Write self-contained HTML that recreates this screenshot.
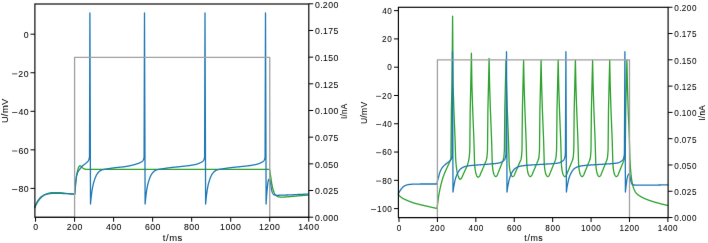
<!DOCTYPE html><html><head><meta charset="utf-8"><style>html,body{margin:0;padding:0;background:#fff;overflow:hidden}svg{display:block}text{font-family:"Liberation Sans",sans-serif;fill:#000;stroke:#000;stroke-width:0.05px}</style></head><body>
<svg width="708" height="243" viewBox="0 0 708 243">
<defs><filter id="bl" x="0" y="0" width="100%" height="100%" color-interpolation-filters="sRGB"><feConvolveMatrix order="3" kernelMatrix="0.00276 0.04704 0.00276 0.04704 0.80077 0.04704 0.00276 0.04704 0.00276" edgeMode="duplicate"/></filter></defs>
<g filter="url(#bl)"><rect width="708" height="243" fill="#fff"/>
<path d="M34.70,208.20 L34.95,207.46 L35.20,206.75 L35.45,206.11 L35.50,206.00 L35.70,205.55 L35.95,205.03 L36.20,204.53 L36.45,204.06 L36.71,203.61 L36.96,203.18 L37.21,202.77 L37.46,202.37 L37.70,202.00 L37.71,201.99 L37.96,201.61 L38.21,201.24 L38.46,200.87 L38.71,200.51 L38.96,200.16 L39.21,199.81 L39.46,199.48 L39.71,199.15 L39.96,198.84 L40.21,198.54 L40.46,198.25 L40.72,197.97 L40.97,197.71 L41.22,197.47 L41.40,197.30 L41.47,197.24 L41.72,197.02 L41.97,196.80 L42.22,196.59 L42.47,196.38 L42.72,196.17 L42.97,195.97 L43.22,195.78 L43.47,195.59 L43.72,195.40 L43.97,195.23 L44.22,195.06 L44.47,194.90 L44.73,194.75 L44.98,194.60 L45.23,194.47 L45.48,194.34 L45.73,194.23 L45.98,194.12 L46.23,194.03 L46.30,194.00 L46.48,193.94 L46.73,193.85 L46.98,193.77 L47.23,193.68 L47.48,193.60 L47.73,193.52 L47.98,193.44 L48.23,193.36 L48.48,193.29 L48.73,193.21 L48.99,193.14 L49.24,193.07 L49.49,193.01 L49.74,192.95 L49.99,192.89 L50.24,192.84 L50.49,192.79 L50.74,192.75 L50.99,192.71 L51.24,192.68 L51.49,192.65 L51.74,192.63 L51.99,192.61 L52.24,192.60 L52.49,192.60 L52.50,192.60 L52.75,192.60 L53.00,192.60 L53.25,192.60 L53.50,192.60 L53.75,192.60 L54.00,192.60 L54.25,192.61 L54.50,192.61 L54.75,192.61 L55.00,192.61 L55.25,192.61 L55.50,192.62 L55.75,192.62 L56.00,192.62 L56.25,192.63 L56.50,192.63 L56.76,192.63 L57.01,192.64 L57.26,192.64 L57.51,192.65 L57.76,192.65 L58.01,192.66 L58.26,192.66 L58.51,192.67 L58.76,192.67 L59.01,192.68 L59.26,192.68 L59.51,192.69 L59.76,192.69 L60.00,192.70 L60.01,192.70 L60.26,192.71 L60.51,192.72 L60.77,192.74 L61.02,192.75 L61.27,192.78 L61.52,192.80 L61.77,192.83 L62.02,192.86 L62.27,192.89 L62.52,192.92 L62.77,192.95 L63.02,192.99 L63.27,193.02 L63.52,193.06 L63.77,193.10 L64.02,193.13 L64.27,193.17 L64.52,193.21 L64.78,193.24 L65.03,193.28 L65.28,193.31 L65.53,193.34 L65.78,193.37 L66.00,193.40 L66.03,193.40 L66.28,193.43 L66.53,193.46 L66.78,193.49 L67.03,193.52 L67.28,193.54 L67.53,193.57 L67.78,193.60 L68.03,193.63 L68.28,193.66 L68.53,193.69 L68.78,193.72 L69.04,193.74 L69.29,193.77 L69.54,193.80 L69.79,193.83 L70.04,193.86 L70.29,193.88 L70.54,193.91 L70.79,193.94 L71.04,193.96 L71.29,193.99 L71.54,194.01 L71.79,194.04 L72.04,194.07 L72.29,194.09 L72.54,194.11 L72.80,194.14 L73.05,194.16 L73.30,194.18 L73.50,194.20 L73.55,194.20 L73.80,194.22 L74.05,194.24 L74.30,194.26 L74.55,194.28 L74.80,194.30 L75.05,191.20 L75.30,188.24 L75.50,186.00 L75.55,185.45 L75.80,182.68 L76.05,180.03 L76.30,177.75 L76.40,177.00 L76.55,176.01 L76.80,174.56 L77.05,173.29 L77.30,172.14 L77.40,171.70 L77.55,171.02 L77.80,169.89 L78.05,168.84 L78.30,167.98 L78.50,167.50 L78.55,167.40 L78.80,166.95 L79.05,166.54 L79.30,166.19 L79.55,165.94 L79.80,165.81 L79.90,165.80 L80.05,165.81 L80.30,165.86 L80.55,165.96 L80.80,166.08 L81.05,166.21 L81.20,166.30 L81.30,166.37 L81.55,166.62 L81.80,166.94 L82.05,167.29 L82.30,167.60 L82.50,167.80 L82.55,167.84 L82.80,168.04 L83.05,168.22 L83.30,168.39 L83.55,168.54 L83.80,168.66 L83.90,168.70 L84.05,168.76 L84.30,168.86 L84.55,168.96 L84.80,169.05 L85.05,169.13 L85.30,169.20 L85.55,169.26 L85.80,169.29 L86.00,169.30 L86.05,169.30 L86.30,169.31 L86.55,169.31 L86.80,169.31 L87.05,169.32 L87.30,169.32 L87.55,169.33 L87.80,169.33 L88.05,169.33 L88.30,169.34 L88.55,169.34 L88.80,169.34 L89.05,169.35 L89.30,169.35 L89.55,169.35 L89.80,169.35 L90.05,169.36 L90.30,169.36 L90.55,169.36 L90.80,169.36 L91.05,169.37 L91.30,169.37 L91.55,169.37 L91.80,169.37 L92.05,169.38 L92.30,169.38 L92.55,169.38 L92.80,169.38 L93.05,169.38 L93.30,169.38 L93.55,169.39 L93.80,169.39 L94.05,169.39 L94.31,169.39 L94.56,169.39 L94.81,169.39 L95.06,169.39 L95.31,169.39 L95.56,169.39 L95.81,169.39 L96.06,169.40 L96.31,169.40 L96.56,169.40 L96.81,169.40 L97.06,169.40 L97.31,169.40 L97.56,169.40 L97.81,169.40 L98.06,169.40 L98.31,169.40 L98.56,169.40 L98.81,169.40 L99.06,169.40 L99.31,169.40 L99.56,169.40 L99.81,169.40 L100.00,169.40 L100.06,169.40 L100.31,169.40 L100.56,169.40 L100.81,169.40 L101.06,169.40 L101.31,169.40 L101.56,169.40 L101.81,169.40 L102.06,169.40 L102.31,169.40 L102.56,169.40 L102.81,169.40 L103.06,169.40 L103.31,169.40 L103.56,169.40 L103.81,169.40 L104.06,169.40 L104.31,169.40 L104.56,169.40 L104.81,169.40 L105.06,169.40 L105.31,169.40 L105.56,169.40 L105.81,169.40 L106.06,169.40 L106.31,169.40 L106.56,169.40 L106.81,169.40 L107.06,169.40 L107.31,169.40 L107.56,169.40 L107.81,169.40 L108.06,169.40 L108.31,169.40 L108.56,169.40 L108.81,169.40 L109.06,169.40 L109.31,169.40 L109.56,169.40 L109.81,169.40 L110.06,169.40 L110.31,169.40 L110.56,169.40 L110.81,169.40 L111.06,169.40 L111.31,169.40 L111.56,169.40 L111.81,169.40 L112.06,169.40 L112.31,169.40 L112.56,169.40 L112.81,169.40 L113.06,169.40 L113.31,169.40 L113.56,169.40 L113.81,169.40 L114.06,169.40 L114.31,169.40 L114.56,169.40 L114.81,169.40 L115.06,169.40 L115.31,169.40 L115.56,169.40 L115.81,169.40 L116.06,169.40 L116.31,169.40 L116.56,169.40 L116.81,169.40 L117.06,169.40 L117.31,169.40 L117.56,169.40 L117.81,169.40 L118.06,169.40 L118.31,169.40 L118.56,169.40 L118.81,169.40 L119.06,169.40 L119.31,169.40 L119.56,169.40 L119.81,169.40 L120.06,169.40 L120.31,169.40 L120.56,169.40 L120.81,169.40 L121.06,169.40 L121.31,169.40 L121.56,169.40 L121.81,169.40 L122.06,169.40 L122.31,169.40 L122.56,169.40 L122.81,169.40 L123.06,169.40 L123.31,169.40 L123.56,169.40 L123.81,169.40 L124.06,169.40 L124.31,169.40 L124.56,169.40 L124.81,169.40 L125.06,169.40 L125.31,169.40 L125.56,169.40 L125.81,169.40 L126.06,169.40 L126.31,169.40 L126.56,169.40 L126.81,169.40 L127.06,169.40 L127.31,169.40 L127.56,169.40 L127.81,169.40 L128.06,169.40 L128.31,169.40 L128.56,169.40 L128.81,169.40 L129.06,169.40 L129.31,169.40 L129.56,169.40 L129.81,169.40 L130.06,169.40 L130.31,169.40 L130.56,169.40 L130.81,169.40 L131.06,169.40 L131.31,169.40 L131.56,169.40 L131.81,169.40 L132.06,169.40 L132.31,169.40 L132.56,169.40 L132.81,169.40 L133.06,169.40 L133.32,169.40 L133.57,169.40 L133.82,169.40 L134.07,169.40 L134.32,169.40 L134.57,169.40 L134.82,169.40 L135.07,169.40 L135.32,169.40 L135.57,169.40 L135.82,169.40 L136.07,169.40 L136.32,169.40 L136.57,169.40 L136.82,169.40 L137.07,169.40 L137.32,169.40 L137.57,169.40 L137.82,169.40 L138.07,169.40 L138.32,169.40 L138.57,169.40 L138.82,169.40 L139.07,169.40 L139.32,169.40 L139.57,169.40 L139.82,169.40 L140.07,169.40 L140.32,169.40 L140.57,169.40 L140.82,169.40 L141.07,169.40 L141.32,169.40 L141.57,169.40 L141.82,169.40 L142.07,169.40 L142.32,169.40 L142.57,169.40 L142.82,169.40 L143.07,169.40 L143.32,169.40 L143.57,169.40 L143.82,169.40 L144.07,169.40 L144.32,169.40 L144.57,169.40 L144.82,169.40 L145.07,169.40 L145.32,169.40 L145.57,169.40 L145.82,169.40 L146.07,169.40 L146.32,169.40 L146.57,169.40 L146.82,169.40 L147.07,169.40 L147.32,169.40 L147.57,169.40 L147.82,169.40 L148.07,169.40 L148.32,169.40 L148.57,169.40 L148.82,169.40 L149.07,169.40 L149.32,169.40 L149.57,169.40 L149.82,169.40 L150.07,169.40 L150.32,169.40 L150.57,169.40 L150.82,169.40 L151.07,169.40 L151.32,169.40 L151.57,169.40 L151.82,169.40 L152.07,169.40 L152.32,169.40 L152.57,169.40 L152.82,169.40 L153.07,169.40 L153.32,169.40 L153.57,169.40 L153.82,169.40 L154.07,169.40 L154.32,169.40 L154.57,169.40 L154.82,169.40 L155.07,169.40 L155.32,169.40 L155.57,169.40 L155.82,169.40 L156.07,169.40 L156.32,169.40 L156.57,169.40 L156.82,169.40 L157.07,169.40 L157.32,169.40 L157.57,169.40 L157.82,169.40 L158.07,169.40 L158.32,169.40 L158.57,169.40 L158.82,169.40 L159.07,169.40 L159.32,169.40 L159.57,169.40 L159.82,169.40 L160.07,169.40 L160.32,169.40 L160.57,169.40 L160.82,169.40 L161.07,169.40 L161.32,169.40 L161.57,169.40 L161.82,169.40 L162.07,169.40 L162.32,169.40 L162.57,169.40 L162.82,169.40 L163.07,169.40 L163.32,169.40 L163.57,169.40 L163.82,169.40 L164.07,169.40 L164.32,169.40 L164.57,169.40 L164.82,169.40 L165.07,169.40 L165.32,169.40 L165.57,169.40 L165.82,169.40 L166.07,169.40 L166.32,169.40 L166.57,169.40 L166.82,169.40 L167.07,169.40 L167.32,169.40 L167.57,169.40 L167.82,169.40 L168.07,169.40 L168.32,169.40 L168.57,169.40 L168.82,169.40 L169.07,169.40 L169.32,169.40 L169.57,169.40 L169.82,169.40 L170.07,169.40 L170.32,169.40 L170.57,169.40 L170.82,169.40 L171.07,169.40 L171.32,169.40 L171.57,169.40 L171.82,169.40 L172.07,169.40 L172.33,169.40 L172.58,169.40 L172.83,169.40 L173.08,169.40 L173.33,169.40 L173.58,169.40 L173.83,169.40 L174.08,169.40 L174.33,169.40 L174.58,169.40 L174.83,169.40 L175.08,169.40 L175.33,169.40 L175.58,169.40 L175.83,169.40 L176.08,169.40 L176.33,169.40 L176.58,169.40 L176.83,169.40 L177.08,169.40 L177.33,169.40 L177.58,169.40 L177.83,169.40 L178.08,169.40 L178.33,169.40 L178.58,169.40 L178.83,169.40 L179.08,169.40 L179.33,169.40 L179.58,169.40 L179.83,169.40 L180.08,169.40 L180.33,169.40 L180.58,169.40 L180.83,169.40 L181.08,169.40 L181.33,169.40 L181.58,169.40 L181.83,169.40 L182.08,169.40 L182.33,169.40 L182.58,169.40 L182.83,169.40 L183.08,169.40 L183.33,169.40 L183.58,169.40 L183.83,169.40 L184.08,169.40 L184.33,169.40 L184.58,169.40 L184.83,169.40 L185.08,169.40 L185.33,169.40 L185.58,169.40 L185.83,169.40 L186.08,169.40 L186.33,169.40 L186.58,169.40 L186.83,169.40 L187.08,169.40 L187.33,169.40 L187.58,169.40 L187.83,169.40 L188.08,169.40 L188.33,169.40 L188.58,169.40 L188.83,169.40 L189.08,169.40 L189.33,169.40 L189.58,169.40 L189.83,169.40 L190.08,169.40 L190.33,169.40 L190.58,169.40 L190.83,169.40 L191.08,169.40 L191.33,169.40 L191.58,169.40 L191.83,169.40 L192.08,169.40 L192.33,169.40 L192.58,169.40 L192.83,169.40 L193.08,169.40 L193.33,169.40 L193.58,169.40 L193.83,169.40 L194.08,169.40 L194.33,169.40 L194.58,169.40 L194.83,169.40 L195.08,169.40 L195.33,169.40 L195.58,169.40 L195.83,169.40 L196.08,169.40 L196.33,169.40 L196.58,169.40 L196.83,169.40 L197.08,169.40 L197.33,169.40 L197.58,169.40 L197.83,169.40 L198.08,169.40 L198.33,169.40 L198.58,169.40 L198.83,169.40 L199.08,169.40 L199.33,169.40 L199.58,169.40 L199.83,169.40 L200.08,169.40 L200.33,169.40 L200.58,169.40 L200.83,169.40 L201.08,169.40 L201.33,169.40 L201.58,169.40 L201.83,169.40 L202.08,169.40 L202.33,169.40 L202.58,169.40 L202.83,169.40 L203.08,169.40 L203.33,169.40 L203.58,169.40 L203.83,169.40 L204.08,169.40 L204.33,169.40 L204.58,169.40 L204.83,169.40 L205.08,169.40 L205.33,169.40 L205.58,169.40 L205.83,169.40 L206.08,169.40 L206.33,169.40 L206.58,169.40 L206.83,169.40 L207.08,169.40 L207.33,169.40 L207.58,169.40 L207.83,169.40 L208.08,169.40 L208.33,169.40 L208.58,169.40 L208.83,169.40 L209.08,169.40 L209.33,169.40 L209.58,169.40 L209.83,169.40 L210.08,169.40 L210.33,169.40 L210.58,169.40 L210.83,169.40 L211.08,169.40 L211.34,169.40 L211.59,169.40 L211.84,169.40 L212.09,169.40 L212.34,169.40 L212.59,169.40 L212.84,169.40 L213.09,169.40 L213.34,169.40 L213.59,169.40 L213.84,169.40 L214.09,169.40 L214.34,169.40 L214.59,169.40 L214.84,169.40 L215.09,169.40 L215.34,169.40 L215.59,169.40 L215.84,169.40 L216.09,169.40 L216.34,169.40 L216.59,169.40 L216.84,169.40 L217.09,169.40 L217.34,169.40 L217.59,169.40 L217.84,169.40 L218.09,169.40 L218.34,169.40 L218.59,169.40 L218.84,169.40 L219.09,169.40 L219.34,169.40 L219.59,169.40 L219.84,169.40 L220.09,169.40 L220.34,169.40 L220.59,169.40 L220.84,169.40 L221.09,169.40 L221.34,169.40 L221.59,169.40 L221.84,169.40 L222.09,169.40 L222.34,169.40 L222.59,169.40 L222.84,169.40 L223.09,169.40 L223.34,169.40 L223.59,169.40 L223.84,169.40 L224.09,169.40 L224.34,169.40 L224.59,169.40 L224.84,169.40 L225.09,169.40 L225.34,169.40 L225.59,169.40 L225.84,169.40 L226.09,169.40 L226.34,169.40 L226.59,169.40 L226.84,169.40 L227.09,169.40 L227.34,169.40 L227.59,169.40 L227.84,169.40 L228.09,169.40 L228.34,169.40 L228.59,169.40 L228.84,169.40 L229.09,169.40 L229.34,169.40 L229.59,169.40 L229.84,169.40 L230.09,169.40 L230.34,169.40 L230.59,169.40 L230.84,169.40 L231.09,169.40 L231.34,169.40 L231.59,169.40 L231.84,169.40 L232.09,169.40 L232.34,169.40 L232.59,169.40 L232.84,169.40 L233.09,169.40 L233.34,169.40 L233.59,169.40 L233.84,169.40 L234.09,169.40 L234.34,169.40 L234.59,169.40 L234.84,169.40 L235.09,169.40 L235.34,169.40 L235.59,169.40 L235.84,169.40 L236.09,169.40 L236.34,169.40 L236.59,169.40 L236.84,169.40 L237.09,169.40 L237.34,169.40 L237.59,169.40 L237.84,169.40 L238.09,169.40 L238.34,169.40 L238.59,169.40 L238.84,169.40 L239.09,169.40 L239.34,169.40 L239.59,169.40 L239.84,169.40 L240.09,169.40 L240.34,169.40 L240.59,169.40 L240.84,169.40 L241.09,169.40 L241.34,169.40 L241.59,169.40 L241.84,169.40 L242.09,169.40 L242.34,169.40 L242.59,169.40 L242.84,169.40 L243.09,169.40 L243.34,169.40 L243.59,169.40 L243.84,169.40 L244.09,169.40 L244.34,169.40 L244.59,169.40 L244.84,169.40 L245.09,169.40 L245.34,169.40 L245.59,169.40 L245.84,169.40 L246.09,169.40 L246.34,169.40 L246.59,169.40 L246.84,169.40 L247.09,169.40 L247.34,169.40 L247.59,169.40 L247.84,169.40 L248.09,169.40 L248.34,169.40 L248.59,169.40 L248.84,169.40 L249.09,169.40 L249.34,169.40 L249.59,169.40 L249.84,169.40 L250.09,169.40 L250.35,169.40 L250.60,169.40 L250.85,169.40 L251.10,169.40 L251.35,169.40 L251.60,169.40 L251.85,169.40 L252.10,169.40 L252.35,169.40 L252.60,169.40 L252.85,169.40 L253.10,169.40 L253.35,169.40 L253.60,169.40 L253.85,169.40 L254.10,169.40 L254.35,169.40 L254.60,169.40 L254.85,169.40 L255.10,169.40 L255.35,169.40 L255.60,169.40 L255.85,169.40 L256.10,169.40 L256.35,169.40 L256.60,169.40 L256.85,169.40 L257.10,169.40 L257.35,169.40 L257.60,169.40 L257.85,169.40 L258.10,169.40 L258.35,169.40 L258.60,169.40 L258.85,169.40 L259.10,169.40 L259.35,169.40 L259.60,169.40 L259.85,169.40 L260.10,169.40 L260.35,169.40 L260.60,169.40 L260.85,169.40 L261.10,169.40 L261.35,169.40 L261.60,169.40 L261.85,169.40 L262.10,169.40 L262.35,169.40 L262.60,169.40 L262.85,169.40 L263.10,169.40 L263.35,169.40 L263.60,169.40 L263.85,169.40 L264.10,169.40 L264.35,169.40 L264.60,169.40 L264.85,169.40 L265.10,169.40 L265.35,169.40 L265.60,169.40 L265.85,169.40 L266.10,169.40 L266.35,169.40 L266.60,169.40 L266.85,169.40 L267.10,169.40 L267.35,169.40 L267.60,169.40 L267.85,169.40 L268.10,169.40 L268.35,169.40 L268.60,169.40 L268.85,169.40 L269.10,169.40 L269.35,169.40 L269.60,169.40 L269.85,171.00 L270.10,172.61 L270.35,174.23 L270.60,175.86 L270.70,176.50 L270.85,177.53 L271.10,179.31 L271.35,181.09 L271.61,182.78 L271.86,184.27 L271.90,184.50 L272.11,185.54 L272.36,186.74 L272.61,187.86 L272.86,188.89 L273.11,189.80 L273.36,190.59 L273.40,190.70 L273.61,191.28 L273.86,191.93 L274.11,192.54 L274.36,193.11 L274.61,193.62 L274.86,194.07 L275.11,194.46 L275.36,194.76 L275.40,194.80 L275.62,195.02 L275.87,195.26 L276.12,195.48 L276.37,195.70 L276.62,195.90 L276.87,196.08 L277.12,196.25 L277.37,196.39 L277.62,196.52 L277.87,196.63 L278.12,196.71 L278.37,196.78 L278.50,196.80 L278.62,196.82 L278.87,196.86 L279.12,196.89 L279.38,196.92 L279.63,196.95 L279.88,196.98 L280.13,197.01 L280.38,197.03 L280.63,197.05 L280.88,197.06 L281.13,197.08 L281.38,197.09 L281.63,197.10 L281.88,197.10 L282.00,197.10 L282.13,197.10 L282.38,197.10 L282.63,197.09 L282.88,197.09 L283.13,197.08 L283.39,197.07 L283.64,197.07 L283.89,197.05 L284.14,197.04 L284.39,197.03 L284.64,197.02 L284.89,197.00 L285.14,196.98 L285.39,196.97 L285.64,196.95 L285.89,196.93 L286.14,196.91 L286.39,196.89 L286.64,196.87 L286.89,196.85 L287.14,196.83 L287.40,196.81 L287.65,196.79 L287.90,196.77 L288.15,196.75 L288.40,196.73 L288.65,196.71 L288.90,196.69 L289.15,196.67 L289.40,196.65 L289.65,196.63 L289.90,196.61 L290.00,196.60 L290.15,196.59 L290.40,196.57 L290.65,196.55 L290.90,196.53 L291.16,196.51 L291.41,196.49 L291.66,196.47 L291.91,196.45 L292.16,196.42 L292.41,196.40 L292.66,196.38 L292.91,196.36 L293.16,196.33 L293.41,196.31 L293.66,196.28 L293.91,196.26 L294.16,196.24 L294.41,196.21 L294.66,196.19 L294.91,196.16 L295.17,196.14 L295.42,196.12 L295.67,196.09 L295.92,196.07 L296.17,196.04 L296.42,196.02 L296.67,195.99 L296.92,195.97 L297.17,195.95 L297.42,195.92 L297.67,195.90 L297.92,195.88 L298.17,195.85 L298.42,195.83 L298.67,195.81 L298.93,195.79 L299.18,195.77 L299.43,195.75 L299.68,195.73 L299.93,195.71 L300.00,195.70 L300.18,195.69 L300.43,195.67 L300.68,195.65 L300.93,195.63 L301.18,195.61 L301.43,195.59 L301.68,195.57 L301.93,195.55 L302.18,195.53 L302.43,195.52 L302.68,195.50 L302.94,195.48 L303.19,195.46 L303.44,195.44 L303.69,195.43 L303.94,195.41 L304.19,195.39 L304.44,195.37 L304.69,195.36 L304.94,195.34 L305.19,195.32 L305.44,195.31 L305.69,195.29 L305.94,195.27 L306.19,195.26 L306.44,195.24 L306.69,195.22 L306.95,195.21 L307.20,195.19 L307.45,195.18 L307.70,195.16 L307.95,195.15 L308.20,195.13 L308.45,195.11 L308.70,195.10" fill="none" stroke="#2ca02c" stroke-width="1.3" stroke-linejoin="round" stroke-linecap="butt"/>
<path d="M34.70,207.40 L34.95,206.70 L35.20,206.03 L35.45,205.41 L35.50,205.30 L35.70,204.84 L35.95,204.28 L36.20,203.74 L36.45,203.22 L36.71,202.72 L36.96,202.25 L37.21,201.80 L37.46,201.38 L37.70,201.00 L37.71,200.99 L37.96,200.62 L38.21,200.26 L38.46,199.90 L38.71,199.56 L38.96,199.23 L39.21,198.90 L39.46,198.59 L39.71,198.29 L39.96,198.01 L40.21,197.74 L40.46,197.49 L40.72,197.25 L40.97,197.03 L41.22,196.83 L41.40,196.70 L41.47,196.65 L41.72,196.48 L41.97,196.31 L42.22,196.15 L42.47,195.99 L42.72,195.84 L42.97,195.69 L43.22,195.54 L43.47,195.41 L43.72,195.27 L43.97,195.15 L44.22,195.03 L44.47,194.92 L44.73,194.81 L44.98,194.71 L45.23,194.62 L45.48,194.53 L45.73,194.45 L45.98,194.38 L46.23,194.32 L46.30,194.30 L46.48,194.26 L46.73,194.20 L46.98,194.15 L47.23,194.09 L47.48,194.04 L47.73,193.98 L47.98,193.93 L48.23,193.88 L48.48,193.83 L48.73,193.79 L48.99,193.74 L49.24,193.70 L49.49,193.66 L49.74,193.62 L49.99,193.58 L50.24,193.55 L50.49,193.52 L50.74,193.49 L50.99,193.47 L51.24,193.45 L51.49,193.43 L51.74,193.42 L51.99,193.41 L52.24,193.40 L52.49,193.40 L52.50,193.40 L52.75,193.40 L53.00,193.40 L53.25,193.40 L53.50,193.40 L53.75,193.40 L54.00,193.40 L54.25,193.40 L54.50,193.40 L54.75,193.40 L55.00,193.40 L55.25,193.40 L55.50,193.40 L55.75,193.40 L56.00,193.40 L56.25,193.40 L56.50,193.40 L56.76,193.40 L57.01,193.40 L57.26,193.40 L57.51,193.40 L57.76,193.40 L58.01,193.40 L58.26,193.40 L58.51,193.40 L58.76,193.40 L59.01,193.40 L59.26,193.40 L59.51,193.40 L59.76,193.40 L60.00,193.40 L60.01,193.40 L60.26,193.40 L60.51,193.40 L60.77,193.41 L61.02,193.42 L61.27,193.42 L61.52,193.43 L61.77,193.44 L62.02,193.46 L62.27,193.47 L62.52,193.48 L62.77,193.49 L63.02,193.51 L63.27,193.52 L63.52,193.53 L63.77,193.55 L64.02,193.56 L64.27,193.57 L64.52,193.58 L64.78,193.60 L64.90,193.60 L65.03,193.60 L65.28,193.61 L65.53,193.62 L65.78,193.63 L66.03,193.64 L66.28,193.65 L66.53,193.66 L66.78,193.66 L67.03,193.67 L67.28,193.68 L67.53,193.69 L67.78,193.69 L68.03,193.70 L68.28,193.71 L68.53,193.71 L68.78,193.72 L69.04,193.73 L69.29,193.74 L69.54,193.74 L69.79,193.75 L70.04,193.76 L70.29,193.77 L70.54,193.78 L70.79,193.78 L71.04,193.79 L71.29,193.80 L71.54,193.81 L71.79,193.82 L72.04,193.83 L72.29,193.84 L72.54,193.85 L72.80,193.86 L73.05,193.88 L73.30,193.89 L73.50,193.90 L73.55,193.90 L73.80,193.92 L74.05,193.94 L74.30,193.96 L74.55,193.98 L74.80,194.00 L75.05,189.54 L75.30,186.00 L75.31,185.92 L75.56,183.08 L75.81,180.67 L76.07,178.72 L76.10,178.50 L76.32,177.14 L76.57,175.80 L76.83,174.74 L76.90,174.50 L77.08,173.95 L77.33,173.28 L77.59,172.69 L77.84,172.17 L78.09,171.70 L78.35,171.26 L78.50,171.00 L78.60,170.83 L78.86,170.43 L79.11,170.05 L79.36,169.70 L79.62,169.36 L79.87,169.04 L80.12,168.73 L80.38,168.42 L80.63,168.12 L80.88,167.82 L80.90,167.80 L81.14,167.52 L81.39,167.22 L81.64,166.92 L81.90,166.64 L82.15,166.36 L82.40,166.09 L82.66,165.83 L82.91,165.58 L83.00,165.50 L83.16,165.35 L83.42,165.13 L83.67,164.93 L83.92,164.73 L84.18,164.53 L84.43,164.35 L84.68,164.16 L84.94,163.97 L85.19,163.78 L85.44,163.59 L85.70,163.38 L85.80,163.30 L85.95,163.17 L86.21,162.97 L86.46,162.77 L86.71,162.56 L86.97,162.33 L87.22,162.09 L87.47,161.83 L87.50,161.80 L87.73,161.55 L87.98,161.26 L88.23,160.92 L88.49,160.52 L88.74,160.03 L88.80,159.90 L88.99,159.33 L89.25,158.26 L89.50,157.00 L89.90,13.00 L90.25,120.00 L90.50,204.00 L90.75,201.31 L91.00,198.81 L91.20,197.00 L91.25,196.56 L91.50,194.47 L91.75,192.53 L92.00,190.76 L92.20,189.50 L92.25,189.18 L92.50,187.76 L92.75,186.46 L93.00,185.27 L93.26,184.18 L93.30,184.00 L93.51,183.19 L93.76,182.28 L94.01,181.43 L94.26,180.63 L94.51,179.87 L94.60,179.60 L94.76,179.14 L95.01,178.45 L95.26,177.79 L95.51,177.17 L95.76,176.59 L95.80,176.50 L96.01,176.04 L96.26,175.51 L96.51,175.01 L96.76,174.55 L97.01,174.13 L97.10,174.00 L97.26,173.77 L97.51,173.42 L97.76,173.09 L98.01,172.77 L98.26,172.47 L98.51,172.19 L98.77,171.93 L99.02,171.68 L99.27,171.46 L99.52,171.26 L99.60,171.20 L99.77,171.08 L100.02,170.91 L100.27,170.75 L100.52,170.59 L100.77,170.45 L101.02,170.32 L101.27,170.20 L101.52,170.08 L101.77,169.98 L102.00,169.90 L102.02,169.89 L102.27,169.81 L102.52,169.74 L102.77,169.66 L103.02,169.60 L103.27,169.54 L103.52,169.48 L103.77,169.43 L104.03,169.37 L104.28,169.32 L104.40,169.30 L104.53,169.28 L104.78,169.23 L105.03,169.19 L105.28,169.15 L105.53,169.11 L105.78,169.07 L106.03,169.03 L106.28,168.99 L106.53,168.96 L106.78,168.92 L106.90,168.90 L107.03,168.88 L107.28,168.84 L107.53,168.80 L107.78,168.76 L108.03,168.73 L108.28,168.69 L108.53,168.65 L108.78,168.61 L109.03,168.57 L109.29,168.54 L109.54,168.50 L109.79,168.46 L110.04,168.43 L110.29,168.39 L110.54,168.35 L110.79,168.32 L110.90,168.30 L111.04,168.28 L111.29,168.24 L111.54,168.21 L111.79,168.17 L112.04,168.13 L112.29,168.10 L112.54,168.06 L112.79,168.02 L113.04,167.99 L113.29,167.95 L113.54,167.91 L113.79,167.88 L114.04,167.84 L114.29,167.81 L114.54,167.77 L114.80,167.74 L115.05,167.71 L115.30,167.67 L115.55,167.64 L115.80,167.61 L115.90,167.60 L116.05,167.58 L116.30,167.55 L116.55,167.53 L116.80,167.50 L117.05,167.47 L117.30,167.45 L117.55,167.42 L117.80,167.40 L118.05,167.38 L118.30,167.35 L118.55,167.33 L118.80,167.31 L119.05,167.29 L119.30,167.27 L119.55,167.24 L119.80,167.22 L120.06,167.20 L120.31,167.18 L120.56,167.16 L120.81,167.13 L121.06,167.11 L121.31,167.09 L121.56,167.06 L121.81,167.04 L122.06,167.01 L122.31,166.99 L122.56,166.96 L122.81,166.93 L123.06,166.90 L123.31,166.87 L123.56,166.84 L123.81,166.81 L123.90,166.80 L124.06,166.78 L124.31,166.74 L124.56,166.71 L124.81,166.67 L125.06,166.63 L125.31,166.60 L125.57,166.56 L125.82,166.51 L126.07,166.47 L126.32,166.43 L126.57,166.39 L126.82,166.34 L127.07,166.30 L127.32,166.25 L127.57,166.20 L127.82,166.16 L128.07,166.11 L128.32,166.06 L128.57,166.01 L128.82,165.95 L129.07,165.90 L129.32,165.85 L129.57,165.80 L129.82,165.74 L130.07,165.69 L130.32,165.63 L130.57,165.57 L130.83,165.52 L131.08,165.46 L131.33,165.40 L131.58,165.34 L131.83,165.28 L132.08,165.22 L132.33,165.16 L132.58,165.09 L132.83,165.03 L133.08,164.97 L133.33,164.91 L133.58,164.84 L133.83,164.78 L134.08,164.71 L134.33,164.64 L134.50,164.60 L134.58,164.58 L134.83,164.51 L135.08,164.44 L135.33,164.37 L135.58,164.30 L135.83,164.23 L136.09,164.15 L136.34,164.07 L136.59,163.99 L136.84,163.91 L137.09,163.83 L137.34,163.74 L137.59,163.66 L137.84,163.57 L138.09,163.47 L138.34,163.38 L138.59,163.28 L138.84,163.18 L139.09,163.08 L139.34,162.97 L139.50,162.90 L139.59,162.86 L139.84,162.75 L140.09,162.63 L140.34,162.51 L140.59,162.39 L140.84,162.25 L141.09,162.11 L141.34,161.95 L141.60,161.78 L141.85,161.60 L142.10,161.40 L142.10,161.40 L142.35,161.19 L142.60,160.95 L142.85,160.67 L143.10,160.33 L143.35,159.90 L143.50,159.60 L143.60,159.33 L143.85,158.30 L144.10,157.00 L144.50,13.00 L144.85,120.00 L145.10,204.00 L145.35,201.32 L145.60,198.82 L145.80,197.00 L145.85,196.57 L146.10,194.49 L146.35,192.55 L146.60,190.77 L146.80,189.50 L146.85,189.20 L147.10,187.78 L147.35,186.48 L147.60,185.29 L147.85,184.20 L147.90,184.00 L148.10,183.21 L148.35,182.30 L148.60,181.45 L148.85,180.65 L149.10,179.89 L149.20,179.60 L149.35,179.17 L149.60,178.47 L149.85,177.81 L150.10,177.19 L150.35,176.61 L150.40,176.50 L150.60,176.06 L150.85,175.53 L151.10,175.03 L151.35,174.57 L151.60,174.15 L151.70,174.00 L151.85,173.78 L152.10,173.44 L152.35,173.10 L152.60,172.79 L152.85,172.49 L153.10,172.21 L153.35,171.94 L153.60,171.70 L153.85,171.48 L154.10,171.27 L154.20,171.20 L154.35,171.09 L154.60,170.92 L154.85,170.76 L155.10,170.60 L155.35,170.46 L155.60,170.33 L155.85,170.21 L156.10,170.09 L156.35,169.99 L156.60,169.90 L156.85,169.82 L157.10,169.74 L157.35,169.67 L157.60,169.61 L157.85,169.54 L158.10,169.49 L158.35,169.43 L158.60,169.38 L158.85,169.33 L159.00,169.30 L159.10,169.28 L159.35,169.23 L159.60,169.19 L159.85,169.15 L160.10,169.11 L160.35,169.07 L160.60,169.03 L160.85,169.00 L161.10,168.96 L161.35,168.92 L161.50,168.90 L161.60,168.88 L161.85,168.85 L162.10,168.81 L162.35,168.77 L162.60,168.73 L162.85,168.69 L163.10,168.66 L163.35,168.62 L163.60,168.58 L163.85,168.54 L164.10,168.51 L164.35,168.47 L164.60,168.43 L164.85,168.39 L165.10,168.36 L165.35,168.32 L165.50,168.30 L165.60,168.29 L165.85,168.25 L166.10,168.21 L166.35,168.18 L166.60,168.14 L166.85,168.10 L167.10,168.06 L167.35,168.03 L167.60,167.99 L167.85,167.95 L168.10,167.92 L168.35,167.88 L168.60,167.85 L168.85,167.81 L169.10,167.78 L169.35,167.75 L169.60,167.71 L169.85,167.68 L170.10,167.65 L170.35,167.62 L170.50,167.60 L170.60,167.59 L170.85,167.56 L171.10,167.53 L171.35,167.50 L171.60,167.48 L171.85,167.45 L172.10,167.42 L172.35,167.40 L172.60,167.37 L172.85,167.35 L173.10,167.33 L173.35,167.30 L173.60,167.28 L173.85,167.25 L174.10,167.23 L174.35,167.21 L174.60,167.19 L174.85,167.16 L175.10,167.14 L175.35,167.12 L175.60,167.09 L175.85,167.07 L176.10,167.05 L176.35,167.02 L176.60,167.00 L176.85,166.97 L177.10,166.95 L177.35,166.92 L177.60,166.90 L177.85,166.87 L178.10,166.84 L178.35,166.82 L178.50,166.80 L178.60,166.79 L178.85,166.76 L179.10,166.73 L179.35,166.71 L179.60,166.68 L179.85,166.65 L180.10,166.62 L180.35,166.60 L180.60,166.57 L180.85,166.54 L181.10,166.52 L181.35,166.49 L181.60,166.46 L181.85,166.44 L182.10,166.41 L182.35,166.39 L182.60,166.36 L182.85,166.33 L183.10,166.31 L183.35,166.28 L183.60,166.25 L183.85,166.22 L184.10,166.20 L184.35,166.17 L184.60,166.14 L184.85,166.12 L185.10,166.09 L185.35,166.06 L185.60,166.03 L185.85,166.00 L186.10,165.97 L186.35,165.94 L186.60,165.91 L186.85,165.88 L187.10,165.85 L187.35,165.82 L187.60,165.79 L187.85,165.76 L188.10,165.73 L188.35,165.70 L188.60,165.66 L188.85,165.63 L189.10,165.60 L189.35,165.56 L189.60,165.53 L189.85,165.49 L190.10,165.45 L190.35,165.42 L190.60,165.38 L190.85,165.34 L191.10,165.30 L191.35,165.26 L191.60,165.22 L191.85,165.18 L192.10,165.14 L192.35,165.10 L192.60,165.06 L192.85,165.01 L193.10,164.97 L193.35,164.92 L193.60,164.88 L193.85,164.83 L194.10,164.78 L194.35,164.73 L194.60,164.68 L194.85,164.63 L195.00,164.60 L195.10,164.58 L195.35,164.52 L195.60,164.46 L195.85,164.40 L196.10,164.33 L196.35,164.26 L196.60,164.19 L196.85,164.11 L197.10,164.03 L197.35,163.95 L197.60,163.86 L197.85,163.77 L198.10,163.68 L198.35,163.58 L198.60,163.49 L198.85,163.39 L199.10,163.28 L199.35,163.18 L199.60,163.07 L199.85,162.97 L200.00,162.90 L200.10,162.86 L200.35,162.74 L200.60,162.63 L200.85,162.51 L201.10,162.38 L201.35,162.25 L201.60,162.10 L201.85,161.95 L202.10,161.78 L202.35,161.60 L202.60,161.40 L202.85,161.19 L203.10,160.95 L203.35,160.67 L203.60,160.33 L203.85,159.90 L204.00,159.60 L204.10,159.33 L204.35,158.29 L204.60,157.00 L205.00,13.00 L205.35,120.00 L205.60,204.00 L205.85,201.32 L206.10,198.82 L206.30,197.00 L206.35,196.57 L206.60,194.49 L206.85,192.55 L207.10,190.77 L207.30,189.50 L207.35,189.20 L207.60,187.78 L207.85,186.48 L208.10,185.29 L208.35,184.20 L208.40,184.00 L208.60,183.21 L208.85,182.30 L209.10,181.45 L209.35,180.65 L209.60,179.89 L209.70,179.60 L209.85,179.17 L210.10,178.47 L210.35,177.81 L210.60,177.19 L210.85,176.61 L210.90,176.50 L211.10,176.06 L211.35,175.53 L211.60,175.03 L211.85,174.57 L212.10,174.15 L212.20,174.00 L212.35,173.78 L212.60,173.44 L212.85,173.10 L213.10,172.79 L213.35,172.49 L213.60,172.21 L213.85,171.94 L214.10,171.70 L214.35,171.48 L214.60,171.27 L214.70,171.20 L214.85,171.09 L215.10,170.92 L215.35,170.76 L215.60,170.60 L215.85,170.46 L216.10,170.33 L216.35,170.21 L216.60,170.09 L216.85,169.99 L217.10,169.90 L217.35,169.82 L217.60,169.74 L217.85,169.67 L218.10,169.61 L218.35,169.54 L218.60,169.49 L218.85,169.43 L219.10,169.38 L219.35,169.33 L219.50,169.30 L219.60,169.28 L219.85,169.23 L220.10,169.19 L220.35,169.15 L220.60,169.11 L220.85,169.07 L221.10,169.03 L221.35,169.00 L221.60,168.96 L221.85,168.92 L222.00,168.90 L222.10,168.88 L222.35,168.85 L222.60,168.81 L222.85,168.77 L223.10,168.73 L223.35,168.69 L223.60,168.66 L223.85,168.62 L224.10,168.58 L224.35,168.54 L224.60,168.51 L224.85,168.47 L225.10,168.43 L225.35,168.39 L225.60,168.36 L225.85,168.32 L226.00,168.30 L226.10,168.29 L226.35,168.25 L226.60,168.21 L226.85,168.18 L227.10,168.14 L227.35,168.10 L227.60,168.06 L227.85,168.03 L228.10,167.99 L228.35,167.95 L228.60,167.92 L228.85,167.88 L229.10,167.85 L229.35,167.81 L229.60,167.78 L229.85,167.75 L230.10,167.71 L230.35,167.68 L230.60,167.65 L230.85,167.62 L231.00,167.60 L231.10,167.59 L231.35,167.56 L231.60,167.53 L231.85,167.50 L232.10,167.48 L232.35,167.45 L232.60,167.42 L232.85,167.40 L233.10,167.37 L233.35,167.35 L233.60,167.33 L233.85,167.30 L234.10,167.28 L234.35,167.25 L234.60,167.23 L234.85,167.21 L235.10,167.19 L235.35,167.16 L235.60,167.14 L235.85,167.12 L236.10,167.09 L236.35,167.07 L236.60,167.05 L236.85,167.02 L237.10,167.00 L237.35,166.97 L237.60,166.95 L237.85,166.92 L238.10,166.90 L238.35,166.87 L238.60,166.84 L238.85,166.82 L239.00,166.80 L239.10,166.79 L239.35,166.76 L239.60,166.73 L239.85,166.71 L240.10,166.68 L240.35,166.65 L240.60,166.62 L240.85,166.60 L241.10,166.57 L241.35,166.54 L241.60,166.52 L241.85,166.49 L242.10,166.46 L242.35,166.44 L242.60,166.41 L242.85,166.39 L243.10,166.36 L243.35,166.33 L243.60,166.31 L243.85,166.28 L244.10,166.25 L244.35,166.22 L244.60,166.20 L244.85,166.17 L245.10,166.14 L245.35,166.12 L245.60,166.09 L245.85,166.06 L246.10,166.03 L246.35,166.00 L246.60,165.97 L246.85,165.94 L247.10,165.91 L247.35,165.88 L247.60,165.85 L247.85,165.82 L248.10,165.79 L248.35,165.76 L248.60,165.73 L248.85,165.70 L249.10,165.66 L249.35,165.63 L249.60,165.60 L249.85,165.56 L250.10,165.53 L250.35,165.49 L250.60,165.45 L250.85,165.42 L251.10,165.38 L251.35,165.34 L251.60,165.30 L251.85,165.26 L252.10,165.22 L252.35,165.18 L252.60,165.14 L252.85,165.10 L253.10,165.06 L253.35,165.01 L253.60,164.97 L253.85,164.92 L254.10,164.88 L254.35,164.83 L254.60,164.78 L254.85,164.73 L255.10,164.68 L255.35,164.63 L255.50,164.60 L255.60,164.58 L255.85,164.52 L256.10,164.46 L256.35,164.40 L256.60,164.33 L256.85,164.26 L257.10,164.19 L257.35,164.11 L257.60,164.03 L257.85,163.95 L258.10,163.86 L258.35,163.77 L258.60,163.68 L258.85,163.58 L259.10,163.49 L259.35,163.39 L259.60,163.28 L259.85,163.18 L260.10,163.07 L260.35,162.97 L260.50,162.90 L260.60,162.86 L260.85,162.74 L261.10,162.63 L261.35,162.51 L261.60,162.38 L261.85,162.25 L262.10,162.10 L262.35,161.95 L262.60,161.78 L262.85,161.60 L263.10,161.40 L263.35,161.19 L263.60,160.95 L263.85,160.67 L264.10,160.33 L264.35,159.90 L264.50,159.60 L264.60,159.33 L264.85,158.29 L265.10,157.00 L265.50,13.00 L265.85,120.00 L266.10,204.00 L266.35,199.74 L266.60,196.00 L266.60,195.98 L266.85,192.68 L267.10,189.79 L267.20,188.80 L267.35,187.32 L267.60,184.97 L267.85,182.91 L268.10,181.39 L268.20,181.00 L268.36,180.48 L268.61,179.74 L268.86,179.28 L269.00,179.20 L269.11,179.21 L269.36,179.32 L269.61,179.51 L269.70,179.60 L269.86,179.92 L270.11,180.92 L270.36,182.24 L270.50,183.00 L270.61,183.65 L270.86,185.47 L271.11,187.36 L271.30,188.50 L271.36,188.81 L271.61,189.96 L271.86,190.96 L272.11,191.77 L272.20,192.00 L272.36,192.41 L272.62,192.98 L272.87,193.47 L273.12,193.87 L273.37,194.17 L273.40,194.20 L273.62,194.38 L273.87,194.58 L274.12,194.74 L274.37,194.88 L274.62,194.99 L274.87,195.07 L275.00,195.10 L275.12,195.12 L275.37,195.16 L275.62,195.20 L275.87,195.23 L276.12,195.26 L276.37,195.28 L276.62,195.29 L276.88,195.30 L277.00,195.30 L277.13,195.30 L277.38,195.30 L277.63,195.29 L277.88,195.29 L278.13,195.28 L278.38,195.27 L278.63,195.26 L278.88,195.25 L279.13,195.23 L279.38,195.22 L279.63,195.21 L279.88,195.20 L280.00,195.20 L280.13,195.20 L280.38,195.19 L280.63,195.18 L280.88,195.17 L281.14,195.17 L281.39,195.16 L281.64,195.15 L281.89,195.14 L282.14,195.14 L282.39,195.13 L282.64,195.12 L282.89,195.12 L283.14,195.11 L283.39,195.10 L283.64,195.09 L283.89,195.09 L284.14,195.08 L284.39,195.07 L284.64,195.07 L284.89,195.06 L285.14,195.05 L285.40,195.05 L285.65,195.04 L285.90,195.03 L286.15,195.02 L286.40,195.02 L286.65,195.01 L286.90,195.00 L287.15,195.00 L287.40,194.99 L287.65,194.98 L287.90,194.97 L288.15,194.96 L288.40,194.96 L288.65,194.95 L288.90,194.94 L289.15,194.93 L289.40,194.92 L289.66,194.91 L289.91,194.90 L290.00,194.90 L290.16,194.89 L290.41,194.88 L290.66,194.87 L290.91,194.86 L291.16,194.85 L291.41,194.84 L291.66,194.83 L291.91,194.82 L292.16,194.81 L292.41,194.79 L292.66,194.78 L292.91,194.77 L293.16,194.75 L293.41,194.74 L293.66,194.73 L293.92,194.71 L294.17,194.70 L294.42,194.69 L294.67,194.67 L294.92,194.66 L295.17,194.64 L295.42,194.63 L295.67,194.62 L295.92,194.60 L296.17,194.59 L296.42,194.58 L296.67,194.56 L296.92,194.55 L297.17,194.53 L297.42,194.52 L297.67,194.51 L297.92,194.50 L298.18,194.48 L298.43,194.47 L298.68,194.46 L298.93,194.45 L299.18,194.44 L299.43,194.42 L299.68,194.41 L299.93,194.40 L300.00,194.40 L300.18,194.39 L300.43,194.38 L300.68,194.37 L300.93,194.36 L301.18,194.35 L301.43,194.34 L301.68,194.33 L301.93,194.32 L302.18,194.31 L302.44,194.30 L302.69,194.30 L302.94,194.29 L303.19,194.28 L303.44,194.27 L303.69,194.26 L303.94,194.25 L304.19,194.24 L304.44,194.23 L304.69,194.22 L304.94,194.22 L305.19,194.21 L305.44,194.20 L305.69,194.19 L305.94,194.18 L306.19,194.17 L306.44,194.17 L306.70,194.16 L306.95,194.15 L307.20,194.14 L307.45,194.14 L307.70,194.13 L307.95,194.12 L308.20,194.11 L308.45,194.11 L308.70,194.10" fill="none" stroke="#1f77b4" stroke-width="1.3" stroke-linejoin="round" stroke-linecap="butt"/>
<path d="M34.90,217.20 L74.58,217.20 L74.58,57.40 L269.74,57.40 L269.74,217.20 L308.80,217.20" fill="none" stroke="#a0a0a0" stroke-width="1.3" stroke-linejoin="round"/>
<rect x="34.90" y="4.00" width="273.90" height="213.30" fill="none" stroke="#000" stroke-width="1.15"/>
<line x1="35.55" y1="217.30" x2="35.55" y2="221.70" stroke="#000" stroke-width="1.0"/>
<text transform="translate(35.55,230.40) scale(0.95,1)" x="-2.56" y="0" font-size="9.20">0</text>
<line x1="74.58" y1="217.30" x2="74.58" y2="221.70" stroke="#000" stroke-width="1.0"/>
<text transform="translate(74.58,230.40) scale(0.95,1)" x="-8.30 -2.59 3.00" y="0" font-size="9.20">200</text>
<line x1="113.61" y1="217.30" x2="113.61" y2="221.70" stroke="#000" stroke-width="1.0"/>
<text transform="translate(113.61,230.40) scale(0.95,1)" x="-8.08 -2.48 3.11" y="0" font-size="9.20">400</text>
<line x1="152.65" y1="217.30" x2="152.65" y2="221.70" stroke="#000" stroke-width="1.0"/>
<text transform="translate(152.65,230.40) scale(0.95,1)" x="-8.17 -2.58 3.02" y="0" font-size="9.20">600</text>
<line x1="191.68" y1="217.30" x2="191.68" y2="221.70" stroke="#000" stroke-width="1.0"/>
<text transform="translate(191.68,230.40) scale(0.95,1)" x="-8.16 -2.57 3.02" y="0" font-size="9.20">800</text>
<line x1="230.71" y1="217.30" x2="230.71" y2="221.70" stroke="#000" stroke-width="1.0"/>
<text transform="translate(230.71,230.40) scale(0.95,1)" x="-11.19 -5.55 0.04 5.64" y="0" font-size="9.20">1000</text>
<line x1="269.74" y1="217.30" x2="269.74" y2="221.70" stroke="#000" stroke-width="1.0"/>
<text transform="translate(269.74,230.40) scale(0.95,1)" x="-11.19 -5.66 0.04 5.64" y="0" font-size="9.20">1200</text>
<line x1="308.77" y1="217.30" x2="308.77" y2="221.70" stroke="#000" stroke-width="1.0"/>
<text transform="translate(308.77,230.40) scale(0.95,1)" x="-11.19 -5.55 0.04 5.64" y="0" font-size="9.20">1400</text>
<line x1="30.50" y1="34.20" x2="34.90" y2="34.20" stroke="#000" stroke-width="1.0"/>
<text transform="translate(28.30,37.97) scale(0.95,1)" x="-4.77" y="0" font-size="9.20">0</text>
<line x1="30.50" y1="72.75" x2="34.90" y2="72.75" stroke="#000" stroke-width="1.0"/>
<text transform="translate(28.30,76.52) scale(0.95,1)" x="-10.48 -4.77" y="0" font-size="9.20">20</text><rect x="12.12" y="73.55" width="5.23" height="0.69" fill="#000"/>
<line x1="30.50" y1="111.30" x2="34.90" y2="111.30" stroke="#000" stroke-width="1.0"/>
<text transform="translate(28.30,115.07) scale(0.95,1)" x="-10.37 -4.77" y="0" font-size="9.20">40</text><rect x="12.12" y="112.10" width="5.23" height="0.69" fill="#000"/>
<line x1="30.50" y1="149.85" x2="34.90" y2="149.85" stroke="#000" stroke-width="1.0"/>
<text transform="translate(28.30,153.62) scale(0.95,1)" x="-10.36 -4.77" y="0" font-size="9.20">60</text><rect x="12.12" y="150.65" width="5.23" height="0.69" fill="#000"/>
<line x1="30.50" y1="188.40" x2="34.90" y2="188.40" stroke="#000" stroke-width="1.0"/>
<text transform="translate(28.30,192.17) scale(0.95,1)" x="-10.37 -4.77" y="0" font-size="9.20">80</text><rect x="12.12" y="189.20" width="5.23" height="0.69" fill="#000"/>
<line x1="308.80" y1="217.20" x2="313.20" y2="217.20" stroke="#000" stroke-width="1.0"/>
<text transform="translate(315.30,221.17) scale(0.95,1)" x="-0.34 5.13 8.04 13.63 19.23" y="0" font-size="9.20">0.000</text>
<line x1="308.80" y1="190.52" x2="313.20" y2="190.52" stroke="#000" stroke-width="1.0"/>
<text transform="translate(315.30,194.49) scale(0.95,1)" x="-0.34 5.13 8.04 13.52 19.19" y="0" font-size="9.20">0.025</text>
<line x1="308.80" y1="163.85" x2="313.20" y2="163.85" stroke="#000" stroke-width="1.0"/>
<text transform="translate(315.30,167.82) scale(0.95,1)" x="-0.34 5.13 8.04 13.60 19.23" y="0" font-size="9.20">0.050</text>
<line x1="308.80" y1="137.17" x2="313.20" y2="137.17" stroke="#000" stroke-width="1.0"/>
<text transform="translate(315.30,141.14) scale(0.95,1)" x="-0.34 5.13 8.04 13.62 19.19" y="0" font-size="9.20">0.075</text>
<line x1="308.80" y1="110.50" x2="313.20" y2="110.50" stroke="#000" stroke-width="1.0"/>
<text transform="translate(315.30,114.47) scale(0.95,1)" x="-0.34 5.13 8.00 13.63 19.23" y="0" font-size="9.20">0.100</text>
<line x1="308.80" y1="83.82" x2="313.20" y2="83.82" stroke="#000" stroke-width="1.0"/>
<text transform="translate(315.30,87.79) scale(0.95,1)" x="-0.34 5.13 8.00 13.52 19.19" y="0" font-size="9.20">0.125</text>
<line x1="308.80" y1="57.15" x2="313.20" y2="57.15" stroke="#000" stroke-width="1.0"/>
<text transform="translate(315.30,61.12) scale(0.95,1)" x="-0.34 5.13 8.00 13.60 19.23" y="0" font-size="9.20">0.150</text>
<line x1="308.80" y1="30.48" x2="313.20" y2="30.48" stroke="#000" stroke-width="1.0"/>
<text transform="translate(315.30,34.44) scale(0.95,1)" x="-0.34 5.13 8.00 13.62 19.19" y="0" font-size="9.20">0.175</text>
<line x1="308.80" y1="3.80" x2="313.20" y2="3.80" stroke="#000" stroke-width="1.0"/>
<text transform="translate(315.30,7.77) scale(0.95,1)" x="-0.34 5.13 7.93 13.63 19.23" y="0" font-size="9.20">0.200</text>
<g transform="translate(7.80,110.45) rotate(-90)"><text x="-12.49 -5.72 -2.51 5.53" y="0" font-size="9.32">U/mV</text></g>
<g transform="translate(347.30,111.10) rotate(-90) scale(0.9,1)"><text x="-8.87 -6.12 -3.16 2.04" y="0" font-size="9.22">I/nA</text></g>
<text x="162.71 165.98 169.22 177.48" y="240.60" font-size="9.43">t/ms</text>
<path d="M398.20,194.40 L398.45,194.69 L398.70,194.97 L398.95,195.25 L399.20,195.52 L399.45,195.77 L399.70,196.02 L399.95,196.26 L400.00,196.30 L400.20,196.48 L400.45,196.71 L400.70,196.92 L400.95,197.13 L401.20,197.33 L401.45,197.52 L401.70,197.70 L401.95,197.87 L402.00,197.90 L402.21,198.03 L402.46,198.18 L402.71,198.32 L402.96,198.46 L403.21,198.59 L403.46,198.72 L403.71,198.85 L403.96,198.97 L404.21,199.09 L404.46,199.21 L404.71,199.32 L404.96,199.44 L405.21,199.56 L405.30,199.60 L405.46,199.67 L405.71,199.79 L405.96,199.90 L406.21,200.02 L406.46,200.13 L406.71,200.24 L406.96,200.35 L407.21,200.46 L407.46,200.57 L407.71,200.67 L407.96,200.78 L408.21,200.88 L408.46,200.99 L408.71,201.09 L408.96,201.19 L409.21,201.29 L409.46,201.39 L409.71,201.49 L409.97,201.59 L410.00,201.60 L410.22,201.68 L410.47,201.78 L410.72,201.88 L410.97,201.97 L411.22,202.07 L411.47,202.16 L411.72,202.25 L411.97,202.35 L412.22,202.44 L412.47,202.53 L412.72,202.62 L412.97,202.70 L413.22,202.79 L413.47,202.87 L413.72,202.96 L413.97,203.04 L414.22,203.12 L414.47,203.19 L414.50,203.20 L414.72,203.27 L414.97,203.34 L415.22,203.41 L415.47,203.48 L415.72,203.55 L415.97,203.61 L416.22,203.68 L416.47,203.74 L416.72,203.81 L416.97,203.87 L417.22,203.93 L417.47,203.99 L417.73,204.05 L417.98,204.11 L418.23,204.17 L418.48,204.23 L418.73,204.29 L418.98,204.35 L419.23,204.41 L419.48,204.47 L419.73,204.53 L419.98,204.59 L420.00,204.60 L420.23,204.66 L420.48,204.72 L420.73,204.78 L420.98,204.84 L421.23,204.90 L421.48,204.96 L421.73,205.02 L421.98,205.08 L422.23,205.13 L422.48,205.19 L422.73,205.25 L422.98,205.31 L423.23,205.37 L423.48,205.43 L423.73,205.48 L423.80,205.50 L423.98,205.54 L424.23,205.60 L424.48,205.66 L424.73,205.71 L424.98,205.77 L425.23,205.83 L425.49,205.89 L425.74,205.94 L425.99,206.00 L426.24,206.05 L426.49,206.11 L426.74,206.17 L426.99,206.22 L427.24,206.28 L427.49,206.34 L427.74,206.39 L427.99,206.45 L428.24,206.50 L428.49,206.56 L428.74,206.62 L428.99,206.67 L429.24,206.73 L429.49,206.78 L429.74,206.84 L429.99,206.90 L430.00,206.90 L430.24,206.95 L430.49,207.01 L430.74,207.07 L430.99,207.13 L431.24,207.18 L431.49,207.24 L431.74,207.30 L431.99,207.35 L432.24,207.41 L432.49,207.47 L432.74,207.52 L432.99,207.58 L433.25,207.64 L433.50,207.70 L433.75,207.75 L434.00,207.81 L434.25,207.87 L434.50,207.93 L434.75,207.98 L435.00,208.04 L435.25,208.10 L435.50,208.15 L435.75,208.21 L436.00,208.27 L436.25,208.33 L436.50,208.38 L436.75,208.44 L437.00,208.50 L437.25,206.63 L437.50,204.75 L437.60,204.00 L437.75,202.85 L438.00,200.87 L438.25,198.93 L438.50,197.14 L438.60,196.50 L438.75,195.59 L439.00,194.13 L439.25,192.75 L439.50,191.43 L439.75,190.17 L440.00,188.96 L440.25,187.81 L440.50,186.70 L440.75,185.63 L440.90,185.00 L441.00,184.59 L441.25,183.59 L441.50,182.62 L441.75,181.68 L442.00,180.78 L442.25,179.91 L442.50,179.08 L442.75,178.27 L443.00,177.50 L443.20,176.90 L443.25,176.75 L443.50,176.04 L443.75,175.36 L444.00,174.71 L444.25,174.08 L444.50,173.47 L444.75,172.87 L445.00,172.28 L445.25,171.69 L445.50,171.10 L445.75,170.52 L446.00,169.95 L446.25,169.39 L446.50,168.84 L446.75,168.30 L447.00,167.76 L447.25,167.21 L447.50,166.67 L447.75,166.11 L447.80,166.00 L448.00,165.56 L448.25,165.02 L448.50,164.49 L448.75,163.96 L449.00,163.42 L449.25,162.87 L449.50,162.30 L449.75,161.70 L450.00,161.06 L450.10,160.80 L450.25,160.38 L450.50,159.63 L450.75,158.83 L451.00,158.00 L451.00,150.00 L451.40,110.00 L452.00,85.00 L452.60,16.20 L453.10,85.00 L453.90,110.00 L455.10,140.00 L455.60,158.00 L455.85,161.57 L456.11,164.60 L456.20,165.50 L456.36,166.89 L456.61,168.84 L456.87,170.51 L457.12,171.92 L457.20,172.30 L457.38,173.10 L457.63,174.15 L457.88,175.08 L458.14,175.89 L458.39,176.57 L458.40,176.60 L458.64,177.20 L458.90,177.83 L459.15,178.40 L459.40,178.88 L459.66,179.19 L459.90,179.30 L459.91,179.30 L460.16,179.26 L460.42,179.15 L460.67,178.99 L460.93,178.79 L461.18,178.55 L461.43,178.30 L461.43,178.30 L461.69,177.95 L461.94,177.44 L462.19,176.84 L462.45,176.19 L462.70,175.56 L462.86,175.20 L462.95,174.99 L463.21,174.44 L463.46,173.89 L463.71,173.34 L463.97,172.79 L464.22,172.24 L464.47,171.69 L464.73,171.13 L464.98,170.57 L465.24,170.01 L465.38,169.70 L465.49,169.45 L465.74,168.91 L466.00,168.39 L466.25,167.86 L466.50,167.32 L466.76,166.75 L467.01,166.13 L467.26,165.44 L467.35,165.20 L467.52,164.70 L467.77,163.92 L468.02,163.09 L468.28,162.16 L468.53,161.09 L468.79,159.85 L469.04,158.39 L469.10,158.00 L469.29,156.38 L469.55,153.40 L469.80,150.00 L469.80,150.00 L470.20,110.00 L470.80,85.00 L471.40,53.20 L471.90,85.00 L472.70,110.00 L473.90,140.00 L474.40,158.00 L474.60,164.00 L474.65,164.78 L474.90,167.71 L475.16,169.63 L475.30,170.50 L475.41,171.09 L475.66,172.29 L475.91,173.26 L476.16,174.09 L476.20,174.20 L476.42,174.85 L476.67,175.54 L476.92,176.11 L477.10,176.40 L477.17,176.49 L477.42,176.81 L477.67,177.06 L477.93,177.19 L478.00,177.20 L478.18,177.18 L478.43,177.09 L478.68,176.93 L478.93,176.73 L479.19,176.49 L479.44,176.23 L479.47,176.20 L479.69,175.88 L479.94,175.36 L480.19,174.74 L480.45,174.07 L480.70,173.41 L480.83,173.10 L480.95,172.82 L481.20,172.25 L481.45,171.68 L481.71,171.11 L481.96,170.54 L482.21,169.97 L482.46,169.39 L482.71,168.81 L482.97,168.23 L483.22,167.65 L483.24,167.60 L483.47,167.06 L483.72,166.49 L483.97,165.91 L484.23,165.33 L484.48,164.73 L484.73,164.12 L484.98,163.48 L485.12,163.10 L485.23,162.82 L485.48,162.22 L485.74,161.63 L485.99,161.01 L486.24,160.29 L486.49,159.40 L486.74,158.28 L486.80,158.00 L487.00,156.49 L487.25,153.49 L487.50,150.00 L487.50,150.00 L487.90,110.00 L488.50,85.00 L489.10,58.50 L489.60,85.00 L490.40,110.00 L491.60,140.00 L492.10,158.00 L492.30,164.00 L492.35,164.77 L492.60,167.69 L492.85,169.61 L493.00,170.50 L493.10,171.08 L493.36,172.32 L493.61,173.32 L493.86,174.09 L493.90,174.20 L494.11,174.68 L494.36,175.16 L494.61,175.55 L494.80,175.80 L494.86,175.87 L495.11,176.18 L495.36,176.44 L495.61,176.59 L495.70,176.60 L495.87,176.58 L496.12,176.47 L496.37,176.29 L496.62,176.06 L496.87,175.79 L497.03,175.60 L497.12,175.48 L497.37,174.99 L497.62,174.34 L497.87,173.61 L498.12,172.89 L498.27,172.50 L498.38,172.24 L498.63,171.61 L498.88,170.99 L499.13,170.36 L499.38,169.73 L499.63,169.11 L499.88,168.48 L500.13,167.84 L500.38,167.20 L500.46,167.00 L500.63,166.56 L500.89,165.91 L501.14,165.27 L501.39,164.62 L501.64,163.96 L501.89,163.29 L502.14,162.60 L502.18,162.50 L502.39,161.95 L502.64,161.37 L502.89,160.79 L503.14,160.13 L503.40,159.32 L503.65,158.26 L503.70,158.00 L503.90,156.49 L504.15,153.51 L504.40,150.00 L504.40,150.00 L504.80,110.00 L505.40,85.00 L506.00,60.00 L506.50,85.00 L507.30,110.00 L508.50,140.00 L509.00,158.00 L509.20,164.00 L509.25,164.75 L509.50,167.67 L509.75,169.59 L509.90,170.50 L510.00,171.06 L510.25,172.29 L510.50,173.30 L510.75,174.07 L510.80,174.20 L511.00,174.66 L511.25,175.15 L511.50,175.54 L511.70,175.80 L511.75,175.86 L512.00,176.17 L512.25,176.43 L512.50,176.58 L512.60,176.60 L512.75,176.58 L513.00,176.50 L513.25,176.35 L513.50,176.15 L513.75,175.91 L514.00,175.65 L514.05,175.60 L514.25,175.32 L514.50,174.81 L514.75,174.19 L515.00,173.51 L515.25,172.85 L515.40,172.50 L515.50,172.26 L515.75,171.69 L516.00,171.11 L516.25,170.54 L516.50,169.97 L516.75,169.39 L517.00,168.82 L517.25,168.24 L517.50,167.65 L517.75,167.07 L517.78,167.00 L518.00,166.48 L518.25,165.89 L518.50,165.30 L518.75,164.70 L519.00,164.10 L519.25,163.49 L519.50,162.86 L519.64,162.50 L519.75,162.24 L520.00,161.69 L520.25,161.18 L520.50,160.65 L520.75,160.02 L521.00,159.24 L521.25,158.23 L521.30,158.00 L521.50,156.50 L521.75,153.51 L522.00,150.00 L522.00,150.00 L522.40,110.00 L523.00,85.00 L523.60,60.20 L524.10,85.00 L524.90,110.00 L526.10,140.00 L526.60,158.00 L526.80,164.00 L526.85,164.80 L527.11,167.73 L527.36,169.65 L527.50,170.50 L527.61,171.12 L527.86,172.36 L528.12,173.36 L528.37,174.13 L528.40,174.20 L528.62,174.71 L528.88,175.19 L529.13,175.58 L529.30,175.80 L529.38,175.90 L529.64,176.21 L529.89,176.46 L530.14,176.59 L530.20,176.60 L530.39,176.57 L530.65,176.47 L530.90,176.31 L531.15,176.09 L531.41,175.84 L531.63,175.60 L531.66,175.57 L531.91,175.17 L532.16,174.60 L532.42,173.94 L532.67,173.25 L532.92,172.60 L532.96,172.50 L533.18,172.01 L533.43,171.42 L533.68,170.83 L533.94,170.25 L534.19,169.66 L534.44,169.07 L534.69,168.48 L534.95,167.88 L535.20,167.28 L535.32,167.00 L535.45,166.68 L535.71,166.08 L535.96,165.47 L536.21,164.87 L536.46,164.25 L536.72,163.63 L536.97,162.99 L537.16,162.50 L537.22,162.34 L537.48,161.77 L537.73,161.25 L537.98,160.70 L538.24,160.08 L538.49,159.29 L538.74,158.28 L538.80,158.00 L538.99,156.55 L539.25,153.54 L539.50,150.00 L539.50,150.00 L539.90,110.00 L540.50,85.00 L541.10,60.20 L541.60,85.00 L542.40,110.00 L543.60,140.00 L544.10,158.00 L544.30,164.00 L544.35,164.75 L544.60,167.67 L544.85,169.59 L545.00,170.50 L545.10,171.06 L545.35,172.29 L545.60,173.30 L545.85,174.07 L545.90,174.20 L546.10,174.66 L546.35,175.15 L546.60,175.54 L546.80,175.80 L546.85,175.86 L547.10,176.17 L547.35,176.43 L547.60,176.58 L547.70,176.60 L547.85,176.58 L548.10,176.49 L548.35,176.32 L548.60,176.10 L548.85,175.84 L549.07,175.60 L549.10,175.56 L549.35,175.13 L549.60,174.53 L549.85,173.84 L550.10,173.12 L550.34,172.50 L550.35,172.47 L550.60,171.85 L550.85,171.25 L551.10,170.64 L551.35,170.03 L551.60,169.42 L551.85,168.81 L552.10,168.20 L552.35,167.58 L552.58,167.00 L552.60,166.95 L552.85,166.33 L553.10,165.70 L553.35,165.07 L553.60,164.44 L553.85,163.79 L554.10,163.14 L554.34,162.50 L554.35,162.47 L554.60,161.85 L554.85,161.30 L555.10,160.74 L555.35,160.09 L555.60,159.28 L555.85,158.24 L555.90,158.00 L556.10,156.48 L556.35,153.50 L556.60,150.00 L556.60,150.00 L557.00,110.00 L557.60,85.00 L558.20,60.20 L558.70,85.00 L559.50,110.00 L560.70,140.00 L561.20,158.00 L561.40,164.00 L561.45,164.78 L561.70,167.71 L561.96,169.63 L562.10,170.50 L562.21,171.10 L562.46,172.34 L562.71,173.34 L562.96,174.11 L563.00,174.20 L563.22,174.70 L563.47,175.18 L563.72,175.57 L563.90,175.80 L563.97,175.89 L564.22,176.19 L564.48,176.45 L564.73,176.59 L564.80,176.60 L564.98,176.58 L565.23,176.47 L565.48,176.30 L565.74,176.08 L565.99,175.82 L566.18,175.60 L566.24,175.53 L566.49,175.09 L566.74,174.48 L567.00,173.78 L567.25,173.07 L567.47,172.50 L567.50,172.42 L567.75,171.81 L568.00,171.21 L568.26,170.60 L568.51,170.00 L568.76,169.39 L569.01,168.78 L569.26,168.17 L569.52,167.55 L569.74,167.00 L569.77,166.93 L570.02,166.31 L570.27,165.69 L570.52,165.06 L570.78,164.43 L571.03,163.79 L571.28,163.13 L571.52,162.50 L571.53,162.47 L571.78,161.85 L572.04,161.31 L572.29,160.75 L572.54,160.10 L572.79,159.30 L573.04,158.27 L573.10,158.00 L573.30,156.52 L573.55,153.53 L573.80,150.00 L573.80,150.00 L574.20,110.00 L574.80,85.00 L575.40,60.20 L575.90,85.00 L576.70,110.00 L577.90,140.00 L578.40,158.00 L578.60,164.00 L578.65,164.78 L578.90,167.71 L579.16,169.63 L579.30,170.50 L579.41,171.10 L579.66,172.34 L579.91,173.34 L580.16,174.11 L580.20,174.20 L580.42,174.70 L580.67,175.18 L580.92,175.57 L581.10,175.80 L581.17,175.89 L581.42,176.19 L581.68,176.45 L581.93,176.59 L582.00,176.60 L582.18,176.58 L582.43,176.47 L582.68,176.30 L582.94,176.08 L583.19,175.82 L583.38,175.60 L583.44,175.53 L583.69,175.09 L583.94,174.48 L584.20,173.78 L584.45,173.07 L584.67,172.50 L584.70,172.42 L584.95,171.81 L585.20,171.21 L585.46,170.60 L585.71,170.00 L585.96,169.39 L586.21,168.78 L586.46,168.17 L586.72,167.55 L586.94,167.00 L586.97,166.93 L587.22,166.31 L587.47,165.69 L587.72,165.06 L587.98,164.43 L588.23,163.79 L588.48,163.13 L588.72,162.50 L588.73,162.47 L588.98,161.85 L589.24,161.31 L589.49,160.75 L589.74,160.10 L589.99,159.30 L590.24,158.27 L590.30,158.00 L590.50,156.52 L590.75,153.53 L591.00,150.00 L591.00,150.00 L591.40,110.00 L592.00,85.00 L592.60,60.20 L593.10,85.00 L593.90,110.00 L595.10,140.00 L595.60,158.00 L595.80,164.00 L595.85,164.75 L596.10,167.67 L596.35,169.59 L596.50,170.50 L596.60,171.06 L596.85,172.29 L597.10,173.30 L597.35,174.07 L597.40,174.20 L597.60,174.66 L597.85,175.15 L598.10,175.54 L598.30,175.80 L598.35,175.86 L598.60,176.17 L598.85,176.43 L599.10,176.58 L599.20,176.60 L599.35,176.58 L599.60,176.49 L599.85,176.32 L600.10,176.10 L600.35,175.84 L600.57,175.60 L600.60,175.56 L600.85,175.13 L601.10,174.53 L601.35,173.84 L601.60,173.12 L601.84,172.50 L601.85,172.47 L602.10,171.85 L602.35,171.25 L602.60,170.64 L602.85,170.03 L603.10,169.42 L603.35,168.81 L603.60,168.20 L603.85,167.58 L604.08,167.00 L604.10,166.95 L604.35,166.33 L604.60,165.70 L604.85,165.07 L605.10,164.44 L605.35,163.79 L605.60,163.14 L605.84,162.50 L605.85,162.47 L606.10,161.85 L606.35,161.30 L606.60,160.74 L606.85,160.09 L607.10,159.28 L607.35,158.24 L607.40,158.00 L607.60,156.48 L607.85,153.50 L608.10,150.00 L608.10,150.00 L608.50,110.00 L609.10,85.00 L609.70,60.20 L610.20,85.00 L611.00,110.00 L612.20,140.00 L612.70,158.00 L612.90,164.00 L612.95,164.78 L613.20,167.71 L613.46,169.63 L613.60,170.50 L613.71,171.10 L613.96,172.34 L614.21,173.34 L614.46,174.11 L614.50,174.20 L614.72,174.70 L614.97,175.18 L615.22,175.57 L615.40,175.80 L615.47,175.89 L615.72,176.19 L615.98,176.45 L616.23,176.59 L616.30,176.60 L616.48,176.58 L616.73,176.47 L616.98,176.30 L617.24,176.08 L617.49,175.82 L617.68,175.60 L617.74,175.53 L617.99,175.09 L618.24,174.48 L618.50,173.78 L618.75,173.07 L618.97,172.50 L619.00,172.42 L619.25,171.81 L619.50,171.21 L619.76,170.60 L620.01,170.00 L620.26,169.39 L620.51,168.78 L620.76,168.17 L621.02,167.55 L621.24,167.00 L621.27,166.93 L621.52,166.31 L621.77,165.69 L622.02,165.06 L622.28,164.43 L622.53,163.79 L622.78,163.13 L623.02,162.50 L623.03,162.47 L623.28,161.85 L623.54,161.31 L623.79,160.75 L624.04,160.10 L624.29,159.30 L624.54,158.27 L624.60,158.00 L624.80,156.52 L625.05,153.53 L625.30,150.00 L625.30,150.00 L625.70,110.00 L626.30,85.00 L626.90,60.20 L627.40,85.00 L628.20,110.00 L629.40,140.00 L629.90,158.00 L630.15,163.44 L630.30,166.00 L630.40,167.47 L630.65,170.48 L630.80,172.00 L630.91,173.06 L631.16,175.48 L631.41,177.69 L631.66,179.60 L631.80,180.50 L631.91,181.14 L632.16,182.50 L632.41,183.72 L632.66,184.83 L632.92,185.83 L633.17,186.74 L633.40,187.50 L633.42,187.56 L633.67,188.31 L633.92,188.98 L634.17,189.59 L634.42,190.15 L634.60,190.50 L634.67,190.64 L634.93,191.11 L635.18,191.55 L635.43,191.96 L635.68,192.35 L635.93,192.71 L636.18,193.03 L636.43,193.33 L636.50,193.40 L636.69,193.59 L636.94,193.85 L637.19,194.08 L637.44,194.31 L637.69,194.52 L637.94,194.72 L638.19,194.92 L638.44,195.10 L638.70,195.28 L638.95,195.45 L639.20,195.62 L639.45,195.78 L639.70,195.94 L639.80,196.00 L639.95,196.09 L640.20,196.25 L640.46,196.40 L640.71,196.55 L640.96,196.69 L641.21,196.83 L641.46,196.97 L641.71,197.11 L641.96,197.24 L642.21,197.37 L642.47,197.50 L642.72,197.63 L642.97,197.76 L643.22,197.88 L643.47,198.00 L643.72,198.12 L643.97,198.24 L644.23,198.35 L644.48,198.46 L644.73,198.58 L644.98,198.69 L645.23,198.79 L645.48,198.90 L645.73,199.01 L645.98,199.11 L646.24,199.21 L646.49,199.31 L646.70,199.40 L646.74,199.42 L646.99,199.51 L647.24,199.61 L647.49,199.71 L647.74,199.81 L647.99,199.90 L648.25,199.99 L648.50,200.09 L648.75,200.18 L649.00,200.27 L649.25,200.36 L649.50,200.45 L649.75,200.54 L650.01,200.62 L650.26,200.71 L650.51,200.80 L650.76,200.88 L651.01,200.96 L651.26,201.05 L651.51,201.13 L651.76,201.21 L652.02,201.29 L652.27,201.37 L652.52,201.45 L652.77,201.53 L653.02,201.61 L653.27,201.68 L653.52,201.76 L653.77,201.84 L654.03,201.91 L654.28,201.99 L654.53,202.06 L654.78,202.14 L655.03,202.21 L655.28,202.28 L655.53,202.35 L655.79,202.43 L656.04,202.50 L656.29,202.57 L656.54,202.64 L656.79,202.71 L657.04,202.78 L657.10,202.80 L657.29,202.85 L657.54,202.92 L657.80,202.99 L658.05,203.06 L658.30,203.13 L658.55,203.20 L658.80,203.27 L659.05,203.34 L659.30,203.41 L659.56,203.47 L659.81,203.54 L660.06,203.61 L660.31,203.67 L660.56,203.74 L660.81,203.80 L661.06,203.87 L661.31,203.93 L661.57,204.00 L661.82,204.06 L662.07,204.12 L662.32,204.19 L662.57,204.25 L662.82,204.31 L663.07,204.37 L663.33,204.43 L663.58,204.49 L663.83,204.55 L664.08,204.61 L664.33,204.67 L664.58,204.73 L664.83,204.79 L665.08,204.85 L665.34,204.90 L665.59,204.96 L665.84,205.02 L666.09,205.07 L666.34,205.13 L666.59,205.18 L666.84,205.24 L667.09,205.29 L667.35,205.34 L667.60,205.40 L667.85,205.45 L668.10,205.50" fill="none" stroke="#2ca02c" stroke-width="1.3" stroke-linejoin="round" stroke-linecap="butt"/>
<path d="M398.20,194.40 L398.45,193.80 L398.70,193.22 L398.95,192.67 L399.20,192.16 L399.45,191.69 L399.50,191.60 L399.70,191.26 L399.95,190.85 L400.20,190.46 L400.45,190.10 L400.70,189.75 L400.95,189.41 L401.20,189.09 L401.45,188.78 L401.60,188.60 L401.70,188.47 L401.95,188.17 L402.21,187.88 L402.46,187.60 L402.71,187.33 L402.96,187.08 L403.21,186.84 L403.46,186.63 L403.50,186.60 L403.71,186.44 L403.96,186.26 L404.21,186.09 L404.46,185.93 L404.71,185.78 L404.96,185.65 L405.21,185.54 L405.30,185.50 L405.46,185.44 L405.71,185.34 L405.96,185.25 L406.21,185.16 L406.46,185.08 L406.71,185.00 L406.96,184.92 L407.21,184.85 L407.46,184.79 L407.71,184.73 L407.96,184.67 L408.21,184.62 L408.46,184.57 L408.71,184.54 L408.96,184.50 L409.00,184.50 L409.21,184.48 L409.46,184.45 L409.71,184.42 L409.97,184.40 L410.22,184.37 L410.47,184.35 L410.72,184.33 L410.97,184.31 L411.22,184.29 L411.47,184.27 L411.72,184.25 L411.97,184.23 L412.22,184.22 L412.47,184.20 L412.72,184.19 L412.97,184.17 L413.22,184.16 L413.47,184.15 L413.72,184.14 L413.97,184.13 L414.22,184.12 L414.47,184.11 L414.72,184.11 L414.97,184.10 L415.00,184.10 L415.22,184.10 L415.47,184.09 L415.72,184.09 L415.97,184.08 L416.22,184.08 L416.47,184.07 L416.72,184.07 L416.97,184.07 L417.22,184.06 L417.47,184.06 L417.73,184.06 L417.98,184.05 L418.23,184.05 L418.48,184.04 L418.73,184.04 L418.98,184.04 L419.23,184.04 L419.48,184.03 L419.73,184.03 L419.98,184.03 L420.23,184.02 L420.48,184.02 L420.73,184.02 L420.98,184.02 L421.23,184.02 L421.48,184.01 L421.73,184.01 L421.98,184.01 L422.23,184.01 L422.48,184.01 L422.73,184.01 L422.98,184.00 L423.23,184.00 L423.48,184.00 L423.73,184.00 L423.98,184.00 L424.23,184.00 L424.48,184.00 L424.73,184.00 L424.98,184.00 L425.00,184.00 L425.23,184.00 L425.49,184.00 L425.74,184.00 L425.99,184.00 L426.24,184.00 L426.49,184.00 L426.74,184.00 L426.99,184.00 L427.24,184.00 L427.49,184.00 L427.74,184.00 L427.99,184.00 L428.24,184.00 L428.49,184.00 L428.74,184.00 L428.99,184.00 L429.24,184.00 L429.49,184.00 L429.74,184.00 L429.99,184.00 L430.24,184.00 L430.49,184.00 L430.74,184.00 L430.99,184.00 L431.24,184.00 L431.49,184.00 L431.74,184.00 L431.99,184.00 L432.24,184.00 L432.49,184.00 L432.74,184.00 L432.99,184.00 L433.25,184.00 L433.50,184.00 L433.75,184.00 L434.00,184.00 L434.25,184.00 L434.50,184.00 L434.75,184.00 L435.00,184.00 L435.25,184.00 L435.50,184.00 L435.75,184.00 L436.00,184.00 L436.25,184.00 L436.50,184.00 L436.75,184.00 L437.00,184.00 L437.25,182.38 L437.50,180.97 L437.60,180.50 L437.75,179.84 L438.01,178.90 L438.26,178.06 L438.51,177.22 L438.60,176.90 L438.76,176.29 L439.01,175.30 L439.26,174.30 L439.52,173.38 L439.77,172.59 L439.80,172.50 L440.02,171.93 L440.27,171.31 L440.52,170.73 L440.77,170.19 L441.03,169.69 L441.28,169.22 L441.53,168.78 L441.78,168.37 L442.03,168.00 L442.10,167.90 L442.29,167.64 L442.54,167.31 L442.79,167.00 L443.04,166.70 L443.29,166.42 L443.54,166.15 L443.80,165.89 L444.05,165.64 L444.30,165.40 L444.55,165.17 L444.80,164.93 L445.05,164.71 L445.31,164.48 L445.50,164.30 L445.56,164.25 L445.81,164.03 L446.06,163.82 L446.31,163.62 L446.56,163.42 L446.81,163.23 L447.07,163.04 L447.32,162.86 L447.57,162.67 L447.82,162.48 L448.07,162.29 L448.33,162.09 L448.58,161.88 L448.83,161.66 L449.00,161.50 L449.08,161.43 L449.33,161.21 L449.58,161.02 L449.84,160.82 L450.09,160.61 L450.34,160.38 L450.59,160.10 L450.84,159.78 L451.09,159.38 L451.30,159.00 L451.35,158.90 L451.60,157.94 L451.85,156.54 L452.10,155.00 L452.50,51.70 L452.80,130.00 L453.00,192.00 L453.25,190.06 L453.50,188.28 L453.70,187.00 L453.75,186.70 L454.00,185.31 L454.25,184.04 L454.40,183.30 L454.50,182.80 L454.75,181.58 L455.00,180.42 L455.20,179.60 L455.25,179.41 L455.50,178.52 L455.75,177.70 L456.00,176.95 L456.20,176.40 L456.25,176.27 L456.50,175.62 L456.75,175.02 L457.00,174.45 L457.25,173.91 L457.50,173.39 L457.70,173.00 L457.75,172.90 L458.00,172.44 L458.25,171.99 L458.50,171.57 L458.75,171.17 L459.00,170.80 L459.25,170.45 L459.50,170.11 L459.75,169.80 L460.00,169.51 L460.25,169.25 L460.30,169.20 L460.50,169.02 L460.75,168.80 L461.00,168.60 L461.25,168.41 L461.50,168.22 L461.75,168.05 L462.00,167.89 L462.25,167.74 L462.50,167.60 L462.75,167.46 L463.00,167.33 L463.25,167.21 L463.50,167.09 L463.75,166.98 L464.00,166.88 L464.25,166.78 L464.50,166.70 L464.75,166.62 L465.00,166.55 L465.25,166.48 L465.50,166.41 L465.75,166.34 L466.00,166.28 L466.25,166.22 L466.50,166.16 L466.75,166.11 L467.00,166.06 L467.25,166.01 L467.50,165.96 L467.75,165.92 L468.00,165.87 L468.25,165.84 L468.50,165.80 L468.75,165.77 L469.00,165.73 L469.25,165.70 L469.50,165.67 L469.75,165.64 L470.00,165.61 L470.25,165.58 L470.50,165.56 L470.75,165.53 L471.00,165.51 L471.25,165.48 L471.50,165.46 L471.75,165.43 L472.00,165.41 L472.25,165.39 L472.50,165.37 L472.75,165.34 L473.00,165.32 L473.25,165.30 L473.50,165.28 L473.75,165.26 L474.00,165.24 L474.25,165.22 L474.50,165.20 L474.75,165.19 L475.00,165.17 L475.25,165.15 L475.50,165.13 L475.75,165.11 L476.00,165.09 L476.25,165.07 L476.50,165.06 L476.75,165.04 L477.00,165.02 L477.25,165.00 L477.50,164.98 L477.75,164.96 L478.00,164.94 L478.25,164.92 L478.50,164.90 L478.75,164.88 L479.00,164.86 L479.25,164.84 L479.50,164.82 L479.75,164.80 L480.00,164.78 L480.25,164.76 L480.50,164.74 L480.75,164.73 L481.00,164.71 L481.25,164.69 L481.50,164.67 L481.75,164.65 L482.00,164.64 L482.25,164.62 L482.50,164.60 L482.75,164.58 L483.00,164.56 L483.25,164.55 L483.50,164.53 L483.75,164.51 L484.00,164.49 L484.25,164.48 L484.50,164.46 L484.75,164.44 L485.00,164.42 L485.25,164.40 L485.50,164.39 L485.75,164.37 L486.00,164.35 L486.25,164.33 L486.50,164.31 L486.75,164.29 L487.00,164.27 L487.25,164.25 L487.50,164.23 L487.75,164.21 L488.00,164.19 L488.25,164.17 L488.50,164.14 L488.75,164.12 L489.00,164.10 L489.25,164.08 L489.50,164.06 L489.75,164.03 L490.00,164.01 L490.25,163.99 L490.50,163.97 L490.75,163.95 L491.00,163.93 L491.25,163.91 L491.50,163.89 L491.75,163.87 L492.00,163.85 L492.25,163.83 L492.50,163.81 L492.75,163.79 L493.00,163.77 L493.25,163.75 L493.50,163.73 L493.75,163.70 L494.00,163.68 L494.25,163.66 L494.50,163.63 L494.75,163.61 L495.00,163.58 L495.25,163.55 L495.50,163.53 L495.75,163.50 L496.00,163.47 L496.25,163.44 L496.50,163.40 L496.75,163.37 L497.00,163.34 L497.25,163.30 L497.50,163.26 L497.75,163.22 L498.00,163.18 L498.25,163.14 L498.50,163.10 L498.75,163.05 L499.00,163.00 L499.25,162.95 L499.50,162.90 L499.75,162.84 L500.00,162.75 L500.25,162.65 L500.50,162.53 L500.75,162.41 L501.00,162.27 L501.25,162.14 L501.50,162.00 L501.75,161.87 L502.00,161.73 L502.25,161.60 L502.50,161.45 L502.75,161.30 L503.00,161.13 L503.25,160.96 L503.50,160.76 L503.75,160.54 L504.00,160.30 L504.25,160.02 L504.50,159.68 L504.75,159.26 L505.00,158.74 L505.10,158.50 L505.25,158.04 L505.50,156.96 L505.75,155.57 L506.00,154.00 L506.50,51.70 L506.80,130.00 L507.00,192.00 L507.25,190.05 L507.50,188.27 L507.70,187.00 L507.75,186.69 L508.00,185.30 L508.25,184.02 L508.40,183.30 L508.50,182.79 L508.75,181.55 L509.01,180.40 L509.20,179.60 L509.26,179.39 L509.51,178.50 L509.76,177.68 L510.01,176.93 L510.20,176.40 L510.26,176.24 L510.51,175.60 L510.76,175.00 L511.01,174.42 L511.26,173.88 L511.51,173.37 L511.70,173.00 L511.76,172.88 L512.01,172.41 L512.26,171.97 L512.51,171.54 L512.76,171.15 L513.00,170.80 L513.02,170.78 L513.27,170.43 L513.52,170.09 L513.77,169.78 L514.02,169.49 L514.27,169.23 L514.30,169.20 L514.52,169.00 L514.77,168.78 L515.02,168.58 L515.27,168.39 L515.52,168.21 L515.77,168.04 L516.02,167.88 L516.27,167.73 L516.50,167.60 L516.52,167.59 L516.78,167.45 L517.03,167.32 L517.28,167.19 L517.53,167.08 L517.78,166.97 L518.03,166.87 L518.28,166.77 L518.50,166.70 L518.53,166.69 L518.78,166.61 L519.03,166.54 L519.28,166.47 L519.53,166.40 L519.78,166.34 L520.03,166.27 L520.28,166.21 L520.53,166.15 L520.79,166.10 L521.04,166.05 L521.29,166.00 L521.54,165.95 L521.79,165.91 L522.04,165.87 L522.29,165.83 L522.50,165.80 L522.54,165.79 L522.79,165.76 L523.04,165.73 L523.29,165.70 L523.54,165.67 L523.79,165.64 L524.04,165.61 L524.29,165.58 L524.55,165.55 L524.80,165.52 L525.05,165.50 L525.30,165.47 L525.55,165.45 L525.80,165.42 L526.05,165.40 L526.30,165.37 L526.55,165.35 L526.80,165.33 L527.05,165.31 L527.30,165.29 L527.55,165.27 L527.80,165.25 L528.05,165.23 L528.30,165.21 L528.56,165.19 L528.81,165.17 L529.06,165.15 L529.31,165.13 L529.56,165.11 L529.81,165.09 L530.06,165.07 L530.31,165.06 L530.56,165.04 L530.81,165.02 L531.06,165.00 L531.31,164.99 L531.56,164.97 L531.81,164.95 L532.06,164.93 L532.32,164.91 L532.50,164.90 L532.57,164.90 L532.82,164.88 L533.07,164.86 L533.32,164.84 L533.57,164.82 L533.82,164.81 L534.07,164.79 L534.32,164.78 L534.57,164.76 L534.82,164.74 L535.07,164.73 L535.32,164.71 L535.57,164.70 L535.82,164.68 L536.07,164.67 L536.33,164.65 L536.58,164.64 L536.83,164.62 L537.08,164.61 L537.33,164.60 L537.58,164.58 L537.83,164.57 L538.08,164.56 L538.33,164.54 L538.58,164.53 L538.83,164.51 L539.08,164.50 L539.33,164.49 L539.58,164.47 L539.83,164.46 L540.08,164.45 L540.34,164.43 L540.59,164.42 L540.84,164.40 L541.09,164.39 L541.34,164.38 L541.59,164.36 L541.84,164.35 L542.09,164.33 L542.34,164.32 L542.59,164.30 L542.84,164.29 L543.09,164.27 L543.34,164.26 L543.59,164.24 L543.84,164.23 L544.10,164.21 L544.35,164.19 L544.60,164.18 L544.85,164.16 L545.10,164.14 L545.35,164.13 L545.60,164.11 L545.70,164.10 L545.85,164.09 L546.10,164.07 L546.35,164.05 L546.60,164.04 L546.85,164.02 L547.10,164.00 L547.35,163.99 L547.60,163.97 L547.85,163.96 L548.11,163.94 L548.36,163.93 L548.61,163.91 L548.86,163.90 L549.11,163.88 L549.36,163.87 L549.61,163.85 L549.86,163.84 L550.11,163.82 L550.36,163.81 L550.61,163.79 L550.86,163.78 L551.11,163.76 L551.36,163.74 L551.61,163.73 L551.87,163.71 L552.12,163.69 L552.37,163.67 L552.62,163.65 L552.87,163.64 L553.12,163.62 L553.37,163.59 L553.62,163.57 L553.87,163.55 L554.12,163.53 L554.37,163.51 L554.62,163.48 L554.87,163.46 L555.12,163.43 L555.37,163.40 L555.62,163.38 L555.88,163.35 L556.13,163.32 L556.38,163.28 L556.63,163.25 L556.88,163.22 L557.13,163.18 L557.38,163.15 L557.63,163.11 L557.88,163.07 L558.13,163.03 L558.38,162.99 L558.63,162.95 L558.88,162.90 L558.90,162.90 L559.13,162.85 L559.38,162.76 L559.64,162.66 L559.89,162.55 L560.14,162.42 L560.39,162.28 L560.64,162.14 L560.89,162.01 L560.90,162.00 L561.14,161.87 L561.39,161.74 L561.64,161.60 L561.89,161.46 L562.14,161.30 L562.39,161.14 L562.64,160.96 L562.89,160.76 L563.14,160.55 L563.39,160.31 L563.40,160.30 L563.65,160.03 L563.90,159.69 L564.15,159.27 L564.40,158.75 L564.50,158.50 L564.65,158.05 L564.90,156.96 L565.15,155.58 L565.40,154.00 L565.90,51.70 L566.20,130.00 L566.40,192.00 L566.65,190.06 L566.90,188.28 L567.10,187.00 L567.15,186.70 L567.40,185.31 L567.65,184.04 L567.80,183.30 L567.90,182.80 L568.15,181.58 L568.40,180.42 L568.60,179.60 L568.65,179.41 L568.90,178.52 L569.15,177.70 L569.40,176.95 L569.60,176.40 L569.65,176.27 L569.90,175.62 L570.15,175.02 L570.40,174.45 L570.65,173.91 L570.90,173.39 L571.10,173.00 L571.15,172.90 L571.40,172.44 L571.65,171.99 L571.90,171.57 L572.15,171.17 L572.40,170.80 L572.65,170.45 L572.90,170.11 L573.15,169.80 L573.40,169.51 L573.65,169.25 L573.70,169.20 L573.90,169.02 L574.15,168.80 L574.40,168.60 L574.65,168.41 L574.90,168.22 L575.15,168.05 L575.40,167.89 L575.65,167.74 L575.90,167.60 L576.15,167.46 L576.40,167.33 L576.65,167.21 L576.90,167.09 L577.15,166.98 L577.40,166.88 L577.65,166.78 L577.90,166.70 L578.15,166.62 L578.40,166.55 L578.65,166.48 L578.90,166.41 L579.15,166.34 L579.40,166.28 L579.65,166.22 L579.90,166.16 L580.15,166.11 L580.40,166.06 L580.65,166.01 L580.90,165.96 L581.15,165.92 L581.40,165.87 L581.65,165.84 L581.90,165.80 L582.15,165.77 L582.40,165.73 L582.65,165.70 L582.90,165.67 L583.15,165.64 L583.40,165.61 L583.65,165.58 L583.90,165.55 L584.15,165.53 L584.40,165.50 L584.65,165.48 L584.90,165.45 L585.15,165.43 L585.40,165.40 L585.65,165.38 L585.90,165.36 L586.15,165.33 L586.40,165.31 L586.65,165.29 L586.90,165.27 L587.15,165.25 L587.40,165.23 L587.65,165.21 L587.90,165.19 L588.15,165.17 L588.40,165.15 L588.65,165.13 L588.90,165.12 L589.15,165.10 L589.40,165.08 L589.65,165.06 L589.90,165.04 L590.15,165.03 L590.40,165.01 L590.65,164.99 L590.90,164.97 L591.15,164.95 L591.40,164.94 L591.65,164.92 L591.90,164.90 L592.15,164.88 L592.40,164.86 L592.65,164.85 L592.90,164.83 L593.15,164.81 L593.40,164.80 L593.65,164.78 L593.90,164.76 L594.15,164.75 L594.40,164.73 L594.65,164.72 L594.90,164.70 L595.15,164.69 L595.40,164.67 L595.65,164.66 L595.90,164.64 L596.15,164.63 L596.40,164.61 L596.65,164.60 L596.90,164.58 L597.15,164.57 L597.40,164.56 L597.65,164.54 L597.90,164.53 L598.15,164.51 L598.40,164.50 L598.65,164.49 L598.90,164.47 L599.15,164.46 L599.40,164.44 L599.65,164.43 L599.90,164.42 L600.15,164.40 L600.40,164.39 L600.65,164.37 L600.90,164.36 L601.15,164.34 L601.40,164.33 L601.65,164.32 L601.90,164.30 L602.15,164.28 L602.40,164.27 L602.65,164.25 L602.90,164.24 L603.15,164.22 L603.40,164.20 L603.65,164.19 L603.90,164.17 L604.15,164.15 L604.40,164.14 L604.65,164.12 L604.90,164.10 L605.15,164.08 L605.40,164.06 L605.65,164.05 L605.90,164.03 L606.15,164.01 L606.40,164.00 L606.65,163.98 L606.90,163.97 L607.15,163.95 L607.40,163.93 L607.65,163.92 L607.90,163.90 L608.15,163.89 L608.40,163.87 L608.65,163.86 L608.90,163.84 L609.15,163.83 L609.40,163.81 L609.65,163.80 L609.90,163.78 L610.15,163.76 L610.40,163.75 L610.65,163.73 L610.90,163.71 L611.15,163.70 L611.40,163.68 L611.65,163.66 L611.90,163.64 L612.15,163.62 L612.40,163.60 L612.65,163.58 L612.90,163.55 L613.15,163.53 L613.40,163.51 L613.65,163.48 L613.90,163.46 L614.15,163.43 L614.40,163.40 L614.65,163.38 L614.90,163.35 L615.15,163.32 L615.40,163.29 L615.65,163.25 L615.90,163.22 L616.15,163.18 L616.40,163.15 L616.65,163.11 L616.90,163.07 L617.15,163.03 L617.40,162.99 L617.65,162.94 L617.90,162.90 L618.15,162.84 L618.40,162.76 L618.65,162.66 L618.90,162.54 L619.15,162.41 L619.40,162.27 L619.65,162.14 L619.90,162.00 L620.15,161.87 L620.40,161.73 L620.65,161.60 L620.90,161.45 L621.15,161.30 L621.40,161.13 L621.65,160.96 L621.90,160.76 L622.15,160.54 L622.40,160.30 L622.65,160.02 L622.90,159.68 L623.15,159.26 L623.40,158.74 L623.50,158.50 L623.65,158.04 L623.90,156.96 L624.15,155.57 L624.40,154.00 L624.90,51.70 L625.20,130.00 L625.40,192.00 L625.65,189.67 L625.90,187.46 L626.15,185.37 L626.20,185.00 L626.40,183.34 L626.66,181.34 L626.91,179.56 L627.10,178.50 L627.16,178.23 L627.41,177.14 L627.66,176.18 L627.91,175.41 L628.16,174.86 L628.20,174.80 L628.41,174.49 L628.67,174.18 L628.92,174.01 L629.00,174.00 L629.17,174.08 L629.42,174.44 L629.60,174.80 L629.67,174.99 L629.92,176.17 L630.17,177.74 L630.40,179.00 L630.42,179.11 L630.67,180.28 L630.93,181.41 L631.18,182.38 L631.40,183.00 L631.43,183.06 L631.68,183.57 L631.93,184.00 L632.18,184.34 L632.43,184.56 L632.50,184.60 L632.68,184.68 L632.94,184.78 L633.19,184.86 L633.44,184.93 L633.69,184.97 L633.94,185.00 L634.00,185.00 L634.19,185.01 L634.44,185.02 L634.69,185.02 L634.94,185.03 L635.20,185.04 L635.45,185.05 L635.70,185.05 L635.95,185.06 L636.20,185.06 L636.45,185.07 L636.70,185.07 L636.95,185.08 L637.21,185.08 L637.46,185.08 L637.71,185.09 L637.96,185.09 L638.21,185.09 L638.46,185.09 L638.71,185.10 L638.96,185.10 L639.21,185.10 L639.47,185.10 L639.72,185.10 L639.97,185.10 L640.00,185.10 L640.22,185.10 L640.47,185.10 L640.72,185.10 L640.97,185.10 L641.22,185.10 L641.48,185.10 L641.73,185.10 L641.98,185.10 L642.23,185.10 L642.48,185.10 L642.73,185.10 L642.98,185.10 L643.23,185.10 L643.48,185.10 L643.74,185.10 L643.99,185.10 L644.24,185.10 L644.49,185.10 L644.74,185.10 L644.99,185.10 L645.24,185.10 L645.49,185.10 L645.75,185.10 L646.00,185.10 L646.25,185.10 L646.50,185.10 L646.75,185.10 L647.00,185.10 L647.25,185.10 L647.50,185.10 L647.75,185.10 L648.01,185.10 L648.26,185.10 L648.51,185.10 L648.76,185.10 L649.01,185.10 L649.26,185.10 L649.51,185.10 L649.76,185.10 L650.00,185.10 L650.02,185.10 L650.27,185.10 L650.52,185.10 L650.77,185.10 L651.02,185.10 L651.27,185.10 L651.52,185.10 L651.77,185.10 L652.02,185.10 L652.28,185.09 L652.53,185.09 L652.78,185.09 L653.03,185.09 L653.28,185.09 L653.53,185.09 L653.78,185.08 L654.03,185.08 L654.29,185.08 L654.54,185.08 L654.79,185.07 L655.04,185.07 L655.29,185.07 L655.54,185.06 L655.79,185.06 L656.04,185.06 L656.29,185.06 L656.55,185.05 L656.80,185.05 L657.05,185.04 L657.30,185.04 L657.55,185.04 L657.80,185.03 L658.05,185.03 L658.30,185.02 L658.56,185.02 L658.81,185.02 L659.06,185.01 L659.31,185.01 L659.56,185.00 L659.81,185.00 L660.06,184.99 L660.31,184.99 L660.56,184.98 L660.82,184.98 L661.07,184.97 L661.32,184.97 L661.57,184.96 L661.82,184.96 L662.07,184.95 L662.32,184.95 L662.57,184.94 L662.83,184.93 L663.08,184.93 L663.33,184.92 L663.58,184.92 L663.83,184.91 L664.08,184.90 L664.33,184.90 L664.58,184.89 L664.83,184.89 L665.09,184.88 L665.34,184.87 L665.59,184.87 L665.84,184.86 L666.09,184.85 L666.34,184.85 L666.59,184.84 L666.84,184.83 L667.10,184.83 L667.35,184.82 L667.60,184.81 L667.85,184.81 L668.10,184.80" fill="none" stroke="#1f77b4" stroke-width="1.3" stroke-linejoin="round" stroke-linecap="butt"/>
<path d="M398.40,217.55 L437.41,217.55 L437.41,59.80 L629.48,59.80 L629.48,217.55 L668.10,217.55" fill="none" stroke="#a0a0a0" stroke-width="1.3" stroke-linejoin="round"/>
<rect x="398.40" y="7.30" width="269.70" height="210.30" fill="none" stroke="#000" stroke-width="1.15"/>
<line x1="399.00" y1="217.60" x2="399.00" y2="222.00" stroke="#000" stroke-width="1.0"/>
<text transform="translate(399.00,230.60) scale(0.9,1)" x="-2.53" y="0" font-size="9.10">0</text>
<line x1="437.41" y1="217.60" x2="437.41" y2="222.00" stroke="#000" stroke-width="1.0"/>
<text transform="translate(437.41,230.60) scale(0.9,1)" x="-8.30 -2.56 3.06" y="0" font-size="9.10">200</text>
<line x1="475.83" y1="217.60" x2="475.83" y2="222.00" stroke="#000" stroke-width="1.0"/>
<text transform="translate(475.83,230.60) scale(0.9,1)" x="-8.08 -2.45 3.17" y="0" font-size="9.10">400</text>
<line x1="514.24" y1="217.60" x2="514.24" y2="222.00" stroke="#000" stroke-width="1.0"/>
<text transform="translate(514.24,230.60) scale(0.9,1)" x="-8.17 -2.55 3.07" y="0" font-size="9.10">600</text>
<line x1="552.66" y1="217.60" x2="552.66" y2="222.00" stroke="#000" stroke-width="1.0"/>
<text transform="translate(552.66,230.60) scale(0.9,1)" x="-8.16 -2.54 3.08" y="0" font-size="9.10">800</text>
<line x1="591.07" y1="217.60" x2="591.07" y2="222.00" stroke="#000" stroke-width="1.0"/>
<text transform="translate(591.07,230.60) scale(0.9,1)" x="-11.20 -5.53 0.09 5.71" y="0" font-size="9.10">1000</text>
<line x1="629.48" y1="217.60" x2="629.48" y2="222.00" stroke="#000" stroke-width="1.0"/>
<text transform="translate(629.48,230.60) scale(0.9,1)" x="-11.20 -5.65 0.09 5.71" y="0" font-size="9.10">1200</text>
<line x1="667.90" y1="217.60" x2="667.90" y2="222.00" stroke="#000" stroke-width="1.0"/>
<text transform="translate(667.90,230.60) scale(0.9,1)" x="-11.20 -5.54 0.09 5.71" y="0" font-size="9.10">1400</text>
<line x1="394.00" y1="208.60" x2="398.40" y2="208.60" stroke="#000" stroke-width="1.0"/>
<text transform="translate(391.50,211.83) scale(0.9,1)" x="-16.04 -10.38 -4.76" y="0" font-size="9.10">100</text><rect x="371.03" y="209.01" width="4.98" height="0.66" fill="#000"/>
<line x1="394.00" y1="180.32" x2="398.40" y2="180.32" stroke="#000" stroke-width="1.0"/>
<text transform="translate(391.50,183.55) scale(0.9,1)" x="-10.38 -4.76" y="0" font-size="9.10">80</text><rect x="376.09" y="180.73" width="4.98" height="0.66" fill="#000"/>
<line x1="394.00" y1="152.04" x2="398.40" y2="152.04" stroke="#000" stroke-width="1.0"/>
<text transform="translate(391.50,155.27) scale(0.9,1)" x="-10.37 -4.76" y="0" font-size="9.10">60</text><rect x="376.09" y="152.45" width="4.98" height="0.66" fill="#000"/>
<line x1="394.00" y1="123.76" x2="398.40" y2="123.76" stroke="#000" stroke-width="1.0"/>
<text transform="translate(391.50,126.99) scale(0.9,1)" x="-10.38 -4.76" y="0" font-size="9.10">40</text><rect x="376.09" y="124.17" width="4.98" height="0.66" fill="#000"/>
<line x1="394.00" y1="95.48" x2="398.40" y2="95.48" stroke="#000" stroke-width="1.0"/>
<text transform="translate(391.50,98.71) scale(0.9,1)" x="-10.49 -4.76" y="0" font-size="9.10">20</text><rect x="376.09" y="95.89" width="4.98" height="0.66" fill="#000"/>
<line x1="394.00" y1="67.20" x2="398.40" y2="67.20" stroke="#000" stroke-width="1.0"/>
<text transform="translate(391.50,70.43) scale(0.9,1)" x="-4.76" y="0" font-size="9.10">0</text>
<line x1="394.00" y1="38.92" x2="398.40" y2="38.92" stroke="#000" stroke-width="1.0"/>
<text transform="translate(391.50,42.15) scale(0.9,1)" x="-10.49 -4.76" y="0" font-size="9.10">20</text>
<line x1="394.00" y1="10.64" x2="398.40" y2="10.64" stroke="#000" stroke-width="1.0"/>
<text transform="translate(391.50,13.87) scale(0.9,1)" x="-10.38 -4.76" y="0" font-size="9.10">40</text>
<line x1="668.10" y1="217.55" x2="672.50" y2="217.55" stroke="#000" stroke-width="1.0"/>
<text transform="translate(674.50,221.48) scale(0.9,1)" x="-0.30 5.17 8.12 13.74 19.36" y="0" font-size="9.10">0.000</text>
<line x1="668.10" y1="191.26" x2="672.50" y2="191.26" stroke="#000" stroke-width="1.0"/>
<text transform="translate(674.50,195.19) scale(0.9,1)" x="-0.30 5.17 8.12 13.63 19.33" y="0" font-size="9.10">0.025</text>
<line x1="668.10" y1="164.98" x2="672.50" y2="164.98" stroke="#000" stroke-width="1.0"/>
<text transform="translate(674.50,168.90) scale(0.9,1)" x="-0.30 5.17 8.12 13.71 19.36" y="0" font-size="9.10">0.050</text>
<line x1="668.10" y1="138.69" x2="672.50" y2="138.69" stroke="#000" stroke-width="1.0"/>
<text transform="translate(674.50,142.62) scale(0.9,1)" x="-0.30 5.17 8.12 13.73 19.33" y="0" font-size="9.10">0.075</text>
<line x1="668.10" y1="112.40" x2="672.50" y2="112.40" stroke="#000" stroke-width="1.0"/>
<text transform="translate(674.50,116.33) scale(0.9,1)" x="-0.30 5.17 8.08 13.74 19.36" y="0" font-size="9.10">0.100</text>
<line x1="668.10" y1="86.11" x2="672.50" y2="86.11" stroke="#000" stroke-width="1.0"/>
<text transform="translate(674.50,90.04) scale(0.9,1)" x="-0.30 5.17 8.08 13.63 19.33" y="0" font-size="9.10">0.125</text>
<line x1="668.10" y1="59.82" x2="672.50" y2="59.82" stroke="#000" stroke-width="1.0"/>
<text transform="translate(674.50,63.75) scale(0.9,1)" x="-0.30 5.17 8.08 13.71 19.36" y="0" font-size="9.10">0.150</text>
<line x1="668.10" y1="33.54" x2="672.50" y2="33.54" stroke="#000" stroke-width="1.0"/>
<text transform="translate(674.50,37.47) scale(0.9,1)" x="-0.30 5.17 8.08 13.73 19.33" y="0" font-size="9.10">0.175</text>
<line x1="668.10" y1="7.25" x2="672.50" y2="7.25" stroke="#000" stroke-width="1.0"/>
<text transform="translate(674.50,11.18) scale(0.9,1)" x="-0.30 5.17 8.01 13.74 19.36" y="0" font-size="9.10">0.200</text>
<g transform="translate(367.00,112.60) rotate(-90)"><text x="-11.50 -5.26 -2.31 5.09" y="0" font-size="8.58">U/mV</text></g>
<g transform="translate(704.80,112.65) rotate(-90) scale(0.93,1)"><text x="-8.67 -5.98 -3.09 1.99" y="0" font-size="9.01">I/nA</text></g>
<text x="524.34 527.42 530.48 538.28" y="240.60" font-size="8.90">t/ms</text>
</g></svg></body></html>
